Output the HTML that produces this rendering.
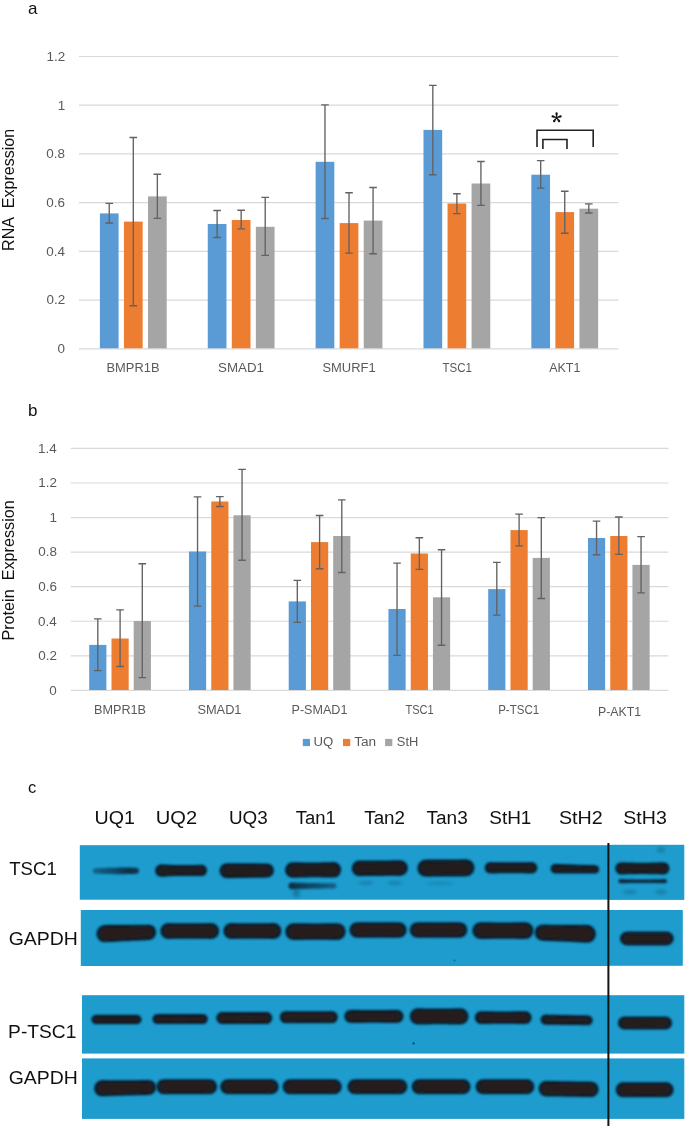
<!DOCTYPE html>
<html><head><meta charset="utf-8"><style>
html,body{margin:0;padding:0;background:#fff;}
body{width:685px;height:1126px;overflow:hidden;}
svg{display:block;will-change:transform;}
text{font-family:"Liberation Sans",sans-serif;}
.lab{fill:#111;}
.tick{fill:#595959;}
.xl{fill:#595959;}
.ytitle{fill:#111;}
.bl{fill:#111;}
</style></head><body>
<svg width="685" height="1126" viewBox="0 0 685 1126">
<defs><filter id="b1" x="-10%" y="-50%" width="120%" height="200%"><feGaussianBlur stdDeviation="0.8"/></filter>
<filter id="b2" x="-30%" y="-80%" width="160%" height="260%"><feGaussianBlur stdDeviation="1.6"/></filter>
<linearGradient id="gteal" x1="0" x2="1" y1="0" y2="0"><stop offset="0" stop-color="#14638c"/><stop offset="0.45" stop-color="#0d4a6b"/><stop offset="0.8" stop-color="#092f45"/><stop offset="1" stop-color="#0c3d5a"/></linearGradient>
<linearGradient id="gteal2" x1="0" x2="1" y1="0" y2="0"><stop offset="0" stop-color="#0a2d42"/><stop offset="0.4" stop-color="#0e4563"/><stop offset="1" stop-color="#136089"/></linearGradient>
</defs>
<rect width="685" height="1126" fill="#fff"/>
<text x="32.7" y="14.0" class="lab" style="font-size:17px" text-anchor="middle">a</text>
<line x1="79.0" x2="618.3" y1="348.80" y2="348.80" stroke="#d9d9d9" stroke-width="1.2"/>
<text x="57.53" y="353.10" class="tick" style="font-size:12.7px" textLength="7.49" lengthAdjust="spacingAndGlyphs">0</text>
<line x1="79.0" x2="618.3" y1="300.08" y2="300.08" stroke="#d9d9d9" stroke-width="1.2"/>
<text x="46.46" y="304.38" class="tick" style="font-size:12.7px" textLength="18.71" lengthAdjust="spacingAndGlyphs">0.2</text>
<line x1="79.0" x2="618.3" y1="251.36" y2="251.36" stroke="#d9d9d9" stroke-width="1.2"/>
<text x="46.16" y="255.66" class="tick" style="font-size:12.7px" textLength="18.71" lengthAdjust="spacingAndGlyphs">0.4</text>
<line x1="79.0" x2="618.3" y1="202.64" y2="202.64" stroke="#d9d9d9" stroke-width="1.2"/>
<text x="46.36" y="206.94" class="tick" style="font-size:12.7px" textLength="18.71" lengthAdjust="spacingAndGlyphs">0.6</text>
<line x1="79.0" x2="618.3" y1="153.92" y2="153.92" stroke="#d9d9d9" stroke-width="1.2"/>
<text x="46.36" y="158.22" class="tick" style="font-size:12.7px" textLength="18.71" lengthAdjust="spacingAndGlyphs">0.8</text>
<line x1="79.0" x2="618.3" y1="105.20" y2="105.20" stroke="#d9d9d9" stroke-width="1.2"/>
<text x="57.67" y="109.50" class="tick" style="font-size:12.7px" textLength="7.49" lengthAdjust="spacingAndGlyphs">1</text>
<line x1="79.0" x2="618.3" y1="56.48" y2="56.48" stroke="#d9d9d9" stroke-width="1.2"/>
<text x="46.46" y="60.78" class="tick" style="font-size:12.7px" textLength="18.71" lengthAdjust="spacingAndGlyphs">1.2</text>
<rect x="99.90" y="213.40" width="18.7" height="134.90" fill="#5b9bd5"/>
<rect x="123.95" y="221.60" width="18.7" height="126.70" fill="#ed7d31"/>
<rect x="148.00" y="196.40" width="18.7" height="151.90" fill="#a5a5a5"/>
<rect x="207.76" y="224.00" width="18.7" height="124.30" fill="#5b9bd5"/>
<rect x="231.81" y="220.00" width="18.7" height="128.30" fill="#ed7d31"/>
<rect x="255.86" y="226.80" width="18.7" height="121.50" fill="#a5a5a5"/>
<rect x="315.62" y="161.80" width="18.7" height="186.50" fill="#5b9bd5"/>
<rect x="339.67" y="223.10" width="18.7" height="125.20" fill="#ed7d31"/>
<rect x="363.72" y="220.60" width="18.7" height="127.70" fill="#a5a5a5"/>
<rect x="423.48" y="129.90" width="18.7" height="218.40" fill="#5b9bd5"/>
<rect x="447.53" y="203.50" width="18.7" height="144.80" fill="#ed7d31"/>
<rect x="471.58" y="183.50" width="18.7" height="164.80" fill="#a5a5a5"/>
<rect x="531.34" y="174.70" width="18.7" height="173.60" fill="#5b9bd5"/>
<rect x="555.39" y="212.10" width="18.7" height="136.20" fill="#ed7d31"/>
<rect x="579.44" y="208.70" width="18.7" height="139.60" fill="#a5a5a5"/>
<path d="M109.25 203.40V223.00M105.45 203.40H113.05M105.45 223.00H113.05" stroke="#626262" stroke-width="1.35" fill="none"/>
<path d="M133.30 137.50V305.70M129.50 137.50H137.10M129.50 305.70H137.10" stroke="#626262" stroke-width="1.35" fill="none"/>
<path d="M157.35 174.20V218.30M153.55 174.20H161.15M153.55 218.30H161.15" stroke="#626262" stroke-width="1.35" fill="none"/>
<path d="M217.11 210.50V237.50M213.31 210.50H220.91M213.31 237.50H220.91" stroke="#626262" stroke-width="1.35" fill="none"/>
<path d="M241.16 210.20V228.90M237.36 210.20H244.96M237.36 228.90H244.96" stroke="#626262" stroke-width="1.35" fill="none"/>
<path d="M265.21 197.30V255.30M261.41 197.30H269.01M261.41 255.30H269.01" stroke="#626262" stroke-width="1.35" fill="none"/>
<path d="M324.97 104.80V218.50M321.17 104.80H328.77M321.17 218.50H328.77" stroke="#626262" stroke-width="1.35" fill="none"/>
<path d="M349.02 192.70V253.10M345.22 192.70H352.82M345.22 253.10H352.82" stroke="#626262" stroke-width="1.35" fill="none"/>
<path d="M373.07 187.50V253.70M369.27 187.50H376.87M369.27 253.70H376.87" stroke="#626262" stroke-width="1.35" fill="none"/>
<path d="M432.83 85.40V174.70M429.03 85.40H436.63M429.03 174.70H436.63" stroke="#626262" stroke-width="1.35" fill="none"/>
<path d="M456.88 193.70V213.60M453.08 193.70H460.68M453.08 213.60H460.68" stroke="#626262" stroke-width="1.35" fill="none"/>
<path d="M480.93 161.50V205.30M477.13 161.50H484.73M477.13 205.30H484.73" stroke="#626262" stroke-width="1.35" fill="none"/>
<path d="M540.69 160.60V188.10M536.89 160.60H544.49M536.89 188.10H544.49" stroke="#626262" stroke-width="1.35" fill="none"/>
<path d="M564.74 191.20V233.20M560.94 191.20H568.54M560.94 233.20H568.54" stroke="#626262" stroke-width="1.35" fill="none"/>
<path d="M588.79 203.80V213.00M584.99 203.80H592.59M584.99 213.00H592.59" stroke="#626262" stroke-width="1.35" fill="none"/>
<text x="106.54" y="371.70" class="xl" style="font-size:12.5px" textLength="52.94" lengthAdjust="spacingAndGlyphs">BMPR1B</text>
<text x="218.00" y="371.70" class="xl" style="font-size:12.5px" textLength="45.94" lengthAdjust="spacingAndGlyphs">SMAD1</text>
<text x="322.42" y="371.70" class="xl" style="font-size:12.5px" textLength="53.22" lengthAdjust="spacingAndGlyphs">SMURF1</text>
<text x="442.44" y="371.70" class="xl" style="font-size:12.5px" textLength="29.42" lengthAdjust="spacingAndGlyphs">TSC1</text>
<text x="549.27" y="371.70" class="xl" style="font-size:12.5px" textLength="31.14" lengthAdjust="spacingAndGlyphs">AKT1</text>
<g transform="translate(13.9,0) rotate(-90)"><text x="-250.93" y="0.00" class="ytitle" style="font-size:16px" textLength="122.00" lengthAdjust="spacingAndGlyphs">RNA&#160;&#160;Expression</text></g>
<path d="M537.0 147V130.3H593.2V147" stroke="#222" stroke-width="1.6" fill="none"/>
<path d="M542.9 149V139.5H567.0V149" stroke="#222" stroke-width="1.6" fill="none"/>
<path d="M556.95 117.60L557.75 113.45A1.15 1.15 0 1 0 555.45 113.45L556.25 117.60ZM556.71 117.93L560.90 117.41A1.15 1.15 0 1 0 560.19 115.22L556.49 117.27ZM556.32 117.81L558.11 121.63A1.15 1.15 0 1 0 559.97 120.28L556.88 117.39ZM556.32 117.39L553.23 120.28A1.15 1.15 0 1 0 555.09 121.63L556.88 117.81ZM556.71 117.27L553.01 115.22A1.15 1.15 0 1 0 552.30 117.41L556.49 117.93Z" fill="#111"/>
<text x="32.8" y="416.0" class="lab" style="font-size:17px" text-anchor="middle">b</text>
<line x1="70.8" x2="668.5" y1="690.40" y2="690.40" stroke="#d9d9d9" stroke-width="1.2"/>
<text x="49.33" y="694.70" class="tick" style="font-size:12.7px" textLength="7.49" lengthAdjust="spacingAndGlyphs">0</text>
<line x1="70.8" x2="668.5" y1="655.83" y2="655.83" stroke="#d9d9d9" stroke-width="1.2"/>
<text x="38.26" y="660.13" class="tick" style="font-size:12.7px" textLength="18.71" lengthAdjust="spacingAndGlyphs">0.2</text>
<line x1="70.8" x2="668.5" y1="621.26" y2="621.26" stroke="#d9d9d9" stroke-width="1.2"/>
<text x="37.96" y="625.56" class="tick" style="font-size:12.7px" textLength="18.71" lengthAdjust="spacingAndGlyphs">0.4</text>
<line x1="70.8" x2="668.5" y1="586.69" y2="586.69" stroke="#d9d9d9" stroke-width="1.2"/>
<text x="38.16" y="590.99" class="tick" style="font-size:12.7px" textLength="18.71" lengthAdjust="spacingAndGlyphs">0.6</text>
<line x1="70.8" x2="668.5" y1="552.12" y2="552.12" stroke="#d9d9d9" stroke-width="1.2"/>
<text x="38.16" y="556.42" class="tick" style="font-size:12.7px" textLength="18.71" lengthAdjust="spacingAndGlyphs">0.8</text>
<line x1="70.8" x2="668.5" y1="517.55" y2="517.55" stroke="#d9d9d9" stroke-width="1.2"/>
<text x="49.47" y="521.85" class="tick" style="font-size:12.7px" textLength="7.49" lengthAdjust="spacingAndGlyphs">1</text>
<line x1="70.8" x2="668.5" y1="482.98" y2="482.98" stroke="#d9d9d9" stroke-width="1.2"/>
<text x="38.26" y="487.28" class="tick" style="font-size:12.7px" textLength="18.71" lengthAdjust="spacingAndGlyphs">1.2</text>
<line x1="70.8" x2="668.5" y1="448.41" y2="448.41" stroke="#d9d9d9" stroke-width="1.2"/>
<text x="37.96" y="452.71" class="tick" style="font-size:12.7px" textLength="18.71" lengthAdjust="spacingAndGlyphs">1.4</text>
<rect x="89.20" y="644.90" width="17.2" height="45.10" fill="#5b9bd5"/>
<rect x="111.50" y="638.50" width="17.2" height="51.50" fill="#ed7d31"/>
<rect x="133.70" y="621.00" width="17.2" height="69.00" fill="#a5a5a5"/>
<rect x="188.95" y="551.50" width="17.2" height="138.50" fill="#5b9bd5"/>
<rect x="211.25" y="501.50" width="17.2" height="188.50" fill="#ed7d31"/>
<rect x="233.45" y="515.30" width="17.2" height="174.70" fill="#a5a5a5"/>
<rect x="288.70" y="601.40" width="17.2" height="88.60" fill="#5b9bd5"/>
<rect x="311.00" y="542.10" width="17.2" height="147.90" fill="#ed7d31"/>
<rect x="333.20" y="536.00" width="17.2" height="154.00" fill="#a5a5a5"/>
<rect x="388.45" y="609.00" width="17.2" height="81.00" fill="#5b9bd5"/>
<rect x="410.75" y="553.50" width="17.2" height="136.50" fill="#ed7d31"/>
<rect x="432.95" y="597.30" width="17.2" height="92.70" fill="#a5a5a5"/>
<rect x="488.20" y="589.10" width="17.2" height="100.90" fill="#5b9bd5"/>
<rect x="510.50" y="530.10" width="17.2" height="159.90" fill="#ed7d31"/>
<rect x="532.70" y="557.90" width="17.2" height="132.10" fill="#a5a5a5"/>
<rect x="587.95" y="538.00" width="17.2" height="152.00" fill="#5b9bd5"/>
<rect x="610.25" y="536.00" width="17.2" height="154.00" fill="#ed7d31"/>
<rect x="632.45" y="564.90" width="17.2" height="125.10" fill="#a5a5a5"/>
<path d="M97.80 618.90V670.60M94.00 618.90H101.60M94.00 670.60H101.60" stroke="#626262" stroke-width="1.35" fill="none"/>
<path d="M120.10 609.90V666.50M116.30 609.90H123.90M116.30 666.50H123.90" stroke="#626262" stroke-width="1.35" fill="none"/>
<path d="M142.30 563.70V677.60M138.50 563.70H146.10M138.50 677.60H146.10" stroke="#626262" stroke-width="1.35" fill="none"/>
<path d="M197.55 496.90V606.10M193.75 496.90H201.35M193.75 606.10H201.35" stroke="#626262" stroke-width="1.35" fill="none"/>
<path d="M219.85 496.60V506.50M216.05 496.60H223.65M216.05 506.50H223.65" stroke="#626262" stroke-width="1.35" fill="none"/>
<path d="M242.05 469.40V560.20M238.25 469.40H245.85M238.25 560.20H245.85" stroke="#626262" stroke-width="1.35" fill="none"/>
<path d="M297.30 580.40V622.40M293.50 580.40H301.10M293.50 622.40H301.10" stroke="#626262" stroke-width="1.35" fill="none"/>
<path d="M319.60 515.50V568.70M315.80 515.50H323.40M315.80 568.70H323.40" stroke="#626262" stroke-width="1.35" fill="none"/>
<path d="M341.80 499.80V572.50M338.00 499.80H345.60M338.00 572.50H345.60" stroke="#626262" stroke-width="1.35" fill="none"/>
<path d="M397.05 563.10V655.40M393.25 563.10H400.85M393.25 655.40H400.85" stroke="#626262" stroke-width="1.35" fill="none"/>
<path d="M419.35 537.70V569.30M415.55 537.70H423.15M415.55 569.30H423.15" stroke="#626262" stroke-width="1.35" fill="none"/>
<path d="M441.55 549.70V645.20M437.75 549.70H445.35M437.75 645.20H445.35" stroke="#626262" stroke-width="1.35" fill="none"/>
<path d="M496.80 562.30V615.10M493.00 562.30H500.60M493.00 615.10H500.60" stroke="#626262" stroke-width="1.35" fill="none"/>
<path d="M519.10 514.10V545.90M515.30 514.10H522.90M515.30 545.90H522.90" stroke="#626262" stroke-width="1.35" fill="none"/>
<path d="M541.30 517.60V598.50M537.50 517.60H545.10M537.50 598.50H545.10" stroke="#626262" stroke-width="1.35" fill="none"/>
<path d="M596.55 521.10V554.70M592.75 521.10H600.35M592.75 554.70H600.35" stroke="#626262" stroke-width="1.35" fill="none"/>
<path d="M618.85 517.00V554.40M615.05 517.00H622.65M615.05 554.40H622.65" stroke="#626262" stroke-width="1.35" fill="none"/>
<path d="M641.05 536.60V592.90M637.25 536.60H644.85M637.25 592.90H644.85" stroke="#626262" stroke-width="1.35" fill="none"/>
<text x="93.95" y="713.80" class="xl" style="font-size:12.5px" textLength="52.11" lengthAdjust="spacingAndGlyphs">BMPR1B</text>
<text x="197.42" y="713.80" class="xl" style="font-size:12.5px" textLength="44.09" lengthAdjust="spacingAndGlyphs">SMAD1</text>
<text x="291.56" y="713.80" class="xl" style="font-size:12.5px" textLength="55.84" lengthAdjust="spacingAndGlyphs">P-SMAD1</text>
<text x="405.45" y="713.80" class="xl" style="font-size:12.5px" textLength="28.29" lengthAdjust="spacingAndGlyphs">TSC1</text>
<text x="498.15" y="713.80" class="xl" style="font-size:12.5px" textLength="41.01" lengthAdjust="spacingAndGlyphs">P-TSC1</text>
<text x="597.98" y="715.80" class="xl" style="font-size:12.5px" textLength="43.22" lengthAdjust="spacingAndGlyphs">P-AKT1</text>
<g transform="translate(13.9,0) rotate(-90)"><text x="-640.64" y="0.00" class="ytitle" style="font-size:16px" textLength="140.41" lengthAdjust="spacingAndGlyphs">Protein&#160;&#160;Expression</text></g>
<rect x="302.8" y="738.9" width="7.2" height="7.2" fill="#5b9bd5"/>
<text x="313.48" y="745.90" class="xl" style="font-size:12.5px" textLength="19.75" lengthAdjust="spacingAndGlyphs">UQ</text>
<rect x="343.0" y="738.9" width="7.2" height="7.2" fill="#ed7d31"/>
<text x="354.19" y="745.90" class="xl" style="font-size:12.5px" textLength="21.92" lengthAdjust="spacingAndGlyphs">Tan</text>
<rect x="385.1" y="738.9" width="7.2" height="7.2" fill="#a5a5a5"/>
<text x="396.82" y="745.90" class="xl" style="font-size:12.5px" textLength="21.43" lengthAdjust="spacingAndGlyphs">StH</text>
<text x="32.0" y="792.8" class="lab" style="font-size:16.5px" text-anchor="middle">c</text>
<text x="94.58" y="824.00" class="bl" style="font-size:18px" textLength="40.38" lengthAdjust="spacingAndGlyphs">UQ1</text>
<text x="155.84" y="824.00" class="bl" style="font-size:18px" textLength="41.39" lengthAdjust="spacingAndGlyphs">UQ2</text>
<text x="228.94" y="824.00" class="bl" style="font-size:18px" textLength="38.79" lengthAdjust="spacingAndGlyphs">UQ3</text>
<text x="295.68" y="824.00" class="bl" style="font-size:18px" textLength="40.11" lengthAdjust="spacingAndGlyphs">Tan1</text>
<text x="364.28" y="824.00" class="bl" style="font-size:18px" textLength="40.78" lengthAdjust="spacingAndGlyphs">Tan2</text>
<text x="426.47" y="824.00" class="bl" style="font-size:18px" textLength="41.26" lengthAdjust="spacingAndGlyphs">Tan3</text>
<text x="489.25" y="824.00" class="bl" style="font-size:18px" textLength="42.17" lengthAdjust="spacingAndGlyphs">StH1</text>
<text x="558.91" y="824.00" class="bl" style="font-size:18px" textLength="43.78" lengthAdjust="spacingAndGlyphs">StH2</text>
<text x="623.32" y="824.00" class="bl" style="font-size:18px" textLength="43.53" lengthAdjust="spacingAndGlyphs">StH3</text>
<text x="9.28" y="875.10" class="bl" style="font-size:18.5px" textLength="47.52" lengthAdjust="spacingAndGlyphs">TSC1</text>
<text x="8.73" y="944.80" class="bl" style="font-size:18.5px" textLength="69.15" lengthAdjust="spacingAndGlyphs">GAPDH</text>
<text x="8.12" y="1037.80" class="bl" style="font-size:18.5px" textLength="68.32" lengthAdjust="spacingAndGlyphs">P-TSC1</text>
<text x="8.73" y="1083.60" class="bl" style="font-size:18.5px" textLength="69.15" lengthAdjust="spacingAndGlyphs">GAPDH</text>
<rect x="79.8" y="845.2" width="528.60" height="54.50" fill="#1d9ccd"/>
<rect x="608.4" y="844.8" width="75.90" height="55.10" fill="#1d9ccd"/>
<rect x="80.8" y="910.0" width="527.60" height="56.00" fill="#1d9ccd"/>
<rect x="608.4" y="910.0" width="74.40" height="55.80" fill="#1d9ccd"/>
<rect x="82.0" y="995.2" width="526.40" height="58.40" fill="#1d9ccd"/>
<rect x="608.4" y="995.2" width="75.90" height="58.40" fill="#1d9ccd"/>
<rect x="82.0" y="1058.4" width="526.40" height="60.50" fill="#1d9ccd"/>
<rect x="608.4" y="1058.4" width="75.90" height="60.50" fill="#1d9ccd"/>
<path d="M92.80 871.00L92.97 870.09L93.47 869.27L94.30 868.63L95.45 868.35L96.90 868.28L98.62 868.19L100.60 868.10L102.80 868.01L105.19 867.92L107.74 867.84L110.41 867.76L113.16 867.70L115.95 867.65L118.74 867.62L121.49 867.59L124.16 867.59L126.71 867.60L129.10 867.61L131.30 867.64L133.28 867.67L135.00 867.70L136.45 867.75L137.60 868.17L138.43 868.90L138.93 869.81L139.10 870.80L139.10 870.80L138.93 871.79L138.43 872.71L137.60 873.45L136.45 873.87L135.00 873.93L133.28 873.98L131.30 874.03L129.10 874.07L126.71 874.11L124.16 874.14L121.49 874.16L118.74 874.16L115.95 874.15L113.16 874.12L110.41 874.09L107.74 874.03L105.19 873.97L102.80 873.90L100.60 873.83L98.62 873.76L96.90 873.69L95.45 873.63L94.30 873.36L93.47 872.73L92.97 871.91L92.80 871.00Z" fill="url(#gteal)" filter="url(#b1)"/>
<path d="M155.10 870.60L155.29 869.02L155.86 867.53L156.79 866.23L158.08 865.21L159.70 864.55L161.64 864.36L163.86 864.48L166.33 864.61L169.02 864.73L171.88 864.84L174.88 864.93L177.97 865.00L181.10 865.05L184.23 865.07L187.32 865.07L190.32 865.04L193.18 864.99L195.87 864.92L198.34 864.85L200.56 864.77L202.50 864.83L204.12 865.38L205.41 866.31L206.34 867.52L206.91 868.91L207.10 870.40L207.10 870.40L206.91 871.89L206.34 873.29L205.41 874.50L204.12 875.44L202.50 876.00L200.56 876.08L198.34 876.02L195.87 875.96L193.18 875.92L190.32 875.89L187.32 875.89L184.23 875.91L181.10 875.95L177.97 876.02L174.88 876.11L171.88 876.23L169.02 876.36L166.33 876.50L163.86 876.65L161.64 876.79L159.70 876.61L158.08 875.97L156.79 874.95L155.86 873.66L155.29 872.18L155.10 870.60Z" fill="#0b2231" filter="url(#b1)"/>
<path d="M158.70 870.60L158.86 869.46L159.35 868.41L160.16 867.56L161.27 867.00L162.67 866.83L164.33 866.95L166.25 867.08L168.38 867.21L170.69 867.33L173.16 867.44L175.74 867.53L178.40 867.60L181.10 867.65L183.80 867.67L186.46 867.67L189.04 867.64L191.51 867.59L193.82 867.52L195.95 867.45L197.87 867.37L199.53 867.28L200.93 867.30L202.04 867.71L202.85 868.44L203.34 869.37L203.50 870.40L203.50 870.40L203.34 871.43L202.85 872.36L202.04 873.10L200.93 873.53L199.53 873.55L197.87 873.48L195.95 873.42L193.82 873.36L191.51 873.32L189.04 873.29L186.46 873.29L183.80 873.31L181.10 873.35L178.40 873.42L175.74 873.51L173.16 873.63L170.69 873.76L168.38 873.90L166.25 874.05L164.33 874.20L162.67 874.33L161.27 874.18L160.16 873.62L159.35 872.78L158.86 871.74L158.70 870.60Z" fill="#211a1b" filter="url(#b1)"/>
<path d="M219.40 870.70L219.60 868.97L220.19 867.32L221.17 865.83L222.53 864.57L224.23 863.65L226.27 863.19L228.60 863.17L231.19 863.19L234.01 863.21L237.02 863.23L240.17 863.25L243.41 863.28L246.70 863.30L249.99 863.32L253.23 863.35L256.38 863.37L259.39 863.39L262.21 863.41L264.80 863.43L267.13 863.45L269.17 863.81L270.87 864.65L272.23 865.84L273.21 867.26L273.80 868.84L274.00 870.50L274.00 870.50L273.80 872.16L273.21 873.74L272.23 875.18L270.87 876.37L269.17 877.22L267.13 877.60L264.80 877.63L262.21 877.67L259.39 877.71L256.38 877.76L253.23 877.80L249.99 877.85L246.70 877.90L243.41 877.95L240.17 878.00L237.02 878.04L234.01 878.09L231.19 878.13L228.60 878.17L226.27 878.16L224.23 877.71L222.53 876.81L221.17 875.56L220.19 874.07L219.60 872.43L219.40 870.70Z" fill="#0b2231" filter="url(#b1)"/>
<path d="M223.00 870.70L223.17 869.40L223.69 868.17L224.54 867.10L225.71 866.27L227.20 865.80L228.96 865.75L230.98 865.77L233.24 865.79L235.69 865.81L238.30 865.83L241.03 865.85L243.84 865.88L246.70 865.90L249.56 865.92L252.37 865.95L255.10 865.97L257.71 865.99L260.16 866.01L262.42 866.03L264.44 866.05L266.20 866.07L267.69 866.42L268.86 867.15L269.71 868.13L270.23 869.28L270.40 870.50L270.40 870.50L270.23 871.72L269.71 872.87L268.86 873.87L267.69 874.61L266.20 874.97L264.44 875.00L262.42 875.03L260.16 875.07L257.71 875.11L255.10 875.16L252.37 875.20L249.56 875.25L246.70 875.30L243.84 875.35L241.03 875.40L238.30 875.44L235.69 875.49L233.24 875.53L230.98 875.57L228.96 875.60L227.20 875.56L225.71 875.11L224.54 874.29L223.69 873.22L223.17 872.00L223.00 870.70Z" fill="#211a1b" filter="url(#b1)"/>
<path d="M285.00 870.00L285.20 868.18L285.82 866.45L286.83 864.89L288.22 863.60L289.97 862.67L292.07 862.18L294.47 862.19L297.14 862.26L300.04 862.33L303.14 862.39L306.38 862.43L309.71 862.45L313.10 862.45L316.49 862.43L319.82 862.38L323.06 862.32L326.16 862.24L329.06 862.15L331.73 862.05L334.13 862.03L336.23 862.50L337.98 863.43L339.37 864.71L340.38 866.25L341.00 867.98L341.20 869.80L341.20 869.80L341.00 871.62L340.38 873.35L339.37 874.91L337.98 876.20L336.23 877.13L334.13 877.62L331.73 877.61L329.06 877.54L326.16 877.47L323.06 877.41L319.82 877.37L316.49 877.35L313.10 877.35L309.71 877.37L306.38 877.42L303.14 877.48L300.04 877.56L297.14 877.65L294.47 877.75L292.07 877.77L289.97 877.30L288.22 876.37L286.83 875.09L285.82 873.55L285.20 871.82L285.00 870.00Z" fill="#0b2231" filter="url(#b1)"/>
<path d="M288.60 870.00L288.78 868.60L289.31 867.29L290.19 866.15L291.41 865.28L292.94 864.76L294.76 864.70L296.85 864.79L299.18 864.86L301.71 864.93L304.41 864.99L307.24 865.03L310.15 865.05L313.10 865.05L316.05 865.03L318.96 864.98L321.79 864.92L324.49 864.84L327.02 864.75L329.35 864.65L331.44 864.55L333.26 864.60L334.79 865.10L336.01 865.96L336.89 867.09L337.42 868.40L337.60 869.80L337.60 869.80L337.42 871.20L336.89 872.51L336.01 873.65L334.79 874.52L333.26 875.04L331.44 875.10L329.35 875.01L327.02 874.94L324.49 874.87L321.79 874.81L318.96 874.77L316.05 874.75L313.10 874.75L310.15 874.77L307.24 874.82L304.41 874.88L301.71 874.96L299.18 875.05L296.85 875.15L294.76 875.25L292.94 875.20L291.41 874.70L290.19 873.84L289.31 872.71L288.78 871.40L288.60 870.00Z" fill="#211a1b" filter="url(#b1)"/>
<path d="M288.40 885.90L288.58 884.81L289.10 883.81L289.96 883.03L291.15 882.56L292.66 882.53L294.45 882.58L296.50 882.64L298.79 882.70L301.27 882.76L303.92 882.82L306.69 882.88L309.55 882.94L312.45 883.00L315.35 883.05L318.21 883.10L320.98 883.14L323.63 883.18L326.11 883.21L328.40 883.23L330.45 883.25L332.24 883.27L333.75 883.28L334.94 883.51L335.80 884.12L336.32 884.96L336.50 885.90L336.50 885.90L336.32 886.84L335.80 887.68L334.94 888.29L333.75 888.52L332.24 888.53L330.45 888.55L328.40 888.57L326.11 888.59L323.63 888.62L320.98 888.66L318.21 888.70L315.35 888.75L312.45 888.80L309.55 888.86L306.69 888.92L303.92 888.98L301.27 889.04L298.79 889.10L296.50 889.16L294.45 889.22L292.66 889.27L291.15 889.24L289.96 888.77L289.10 887.99L288.58 886.99L288.40 885.90Z" fill="url(#gteal2)" filter="url(#b1)"/>
<path d="M351.70 868.40L351.90 866.61L352.52 864.89L353.53 863.34L354.92 862.03L356.67 861.07L358.77 860.56L361.17 860.52L363.84 860.53L366.74 860.54L369.84 860.54L373.08 860.53L376.41 860.52L379.80 860.50L383.19 860.47L386.52 860.44L389.76 860.40L392.86 860.35L395.76 860.31L398.43 860.26L400.83 860.26L402.93 860.74L404.68 861.68L406.07 862.96L407.08 864.50L407.70 866.21L407.90 868.00L407.90 868.00L407.70 869.79L407.08 871.51L406.07 873.06L404.68 874.37L402.93 875.33L400.83 875.84L398.43 875.88L395.76 875.87L392.86 875.86L389.76 875.86L386.52 875.87L383.19 875.88L379.80 875.90L376.41 875.93L373.08 875.96L369.84 876.00L366.74 876.05L363.84 876.09L361.17 876.14L358.77 876.14L356.67 875.66L354.92 874.72L353.53 873.44L352.52 871.90L351.90 870.19L351.70 868.40Z" fill="#0b2231" filter="url(#b1)"/>
<path d="M355.30 868.40L355.48 867.03L356.01 865.73L356.89 864.60L358.11 863.72L359.64 863.19L361.46 863.11L363.55 863.12L365.88 863.13L368.41 863.14L371.11 863.14L373.94 863.13L376.85 863.12L379.80 863.10L382.75 863.07L385.66 863.04L388.49 863.00L391.19 862.95L393.72 862.91L396.05 862.86L398.14 862.81L399.96 862.86L401.49 863.36L402.71 864.23L403.59 865.35L404.12 866.63L404.30 868.00L404.30 868.00L404.12 869.37L403.59 870.67L402.71 871.80L401.49 872.68L399.96 873.21L398.14 873.29L396.05 873.28L393.72 873.27L391.19 873.26L388.49 873.26L385.66 873.27L382.75 873.28L379.80 873.30L376.85 873.33L373.94 873.36L371.11 873.40L368.41 873.45L365.88 873.49L363.55 873.54L361.46 873.59L359.64 873.54L358.11 873.04L356.89 872.17L356.01 871.05L355.48 869.77L355.30 868.40Z" fill="#211a1b" filter="url(#b1)"/>
<path d="M417.30 868.20L417.51 866.31L418.13 864.49L419.16 862.83L420.58 861.42L422.36 860.33L424.49 859.69L426.93 859.57L429.65 859.58L432.61 859.59L435.76 859.59L439.06 859.58L442.45 859.57L445.90 859.55L449.35 859.52L452.74 859.49L456.04 859.45L459.19 859.40L462.15 859.36L464.87 859.31L467.31 859.39L469.44 860.01L471.22 861.06L472.64 862.46L473.67 864.10L474.29 865.91L474.50 867.80L474.50 867.80L474.29 869.69L473.67 871.51L472.64 873.17L471.22 874.58L469.44 875.67L467.31 876.31L464.87 876.43L462.15 876.42L459.19 876.41L456.04 876.41L452.74 876.42L449.35 876.43L445.90 876.45L442.45 876.48L439.06 876.51L435.76 876.55L432.61 876.60L429.65 876.64L426.93 876.69L424.49 876.61L422.36 875.99L420.58 874.94L419.16 873.54L418.13 871.90L417.51 870.09L417.30 868.20Z" fill="#0b2231" filter="url(#b1)"/>
<path d="M420.90 868.20L421.08 866.72L421.63 865.31L422.52 864.06L423.76 863.05L425.33 862.38L427.19 862.16L429.32 862.17L431.70 862.18L434.28 862.19L437.03 862.19L439.92 862.18L442.89 862.17L445.90 862.15L448.91 862.12L451.88 862.09L454.77 862.05L457.52 862.00L460.10 861.96L462.48 861.91L464.61 861.86L466.47 862.05L468.04 862.70L469.28 863.69L470.17 864.93L470.72 866.32L470.90 867.80L470.90 867.80L470.72 869.28L470.17 870.69L469.28 871.94L468.04 872.95L466.47 873.62L464.61 873.84L462.48 873.83L460.10 873.82L457.52 873.81L454.77 873.81L451.88 873.82L448.91 873.83L445.90 873.85L442.89 873.88L439.92 873.91L437.03 873.95L434.28 874.00L431.70 874.04L429.32 874.09L427.19 874.14L425.33 873.95L423.76 873.30L422.52 872.31L421.63 871.07L421.08 869.68L420.90 868.20Z" fill="#211a1b" filter="url(#b1)"/>
<path d="M484.60 867.80L484.79 866.31L485.37 864.90L486.32 863.68L487.62 862.73L489.27 862.17L491.24 862.10L493.49 862.15L496.00 862.20L498.73 862.25L501.64 862.29L504.68 862.32L507.82 862.34L511.00 862.35L514.18 862.34L517.32 862.32L520.36 862.29L523.27 862.25L526.00 862.20L528.51 862.15L530.76 862.10L532.73 862.17L534.38 862.73L535.68 863.68L536.63 864.90L537.21 866.31L537.40 867.80L537.40 867.80L537.21 869.29L536.63 870.70L535.68 871.92L534.38 872.87L532.73 873.43L530.76 873.50L528.51 873.45L526.00 873.40L523.27 873.35L520.36 873.31L517.32 873.28L514.18 873.26L511.00 873.25L507.82 873.26L504.68 873.28L501.64 873.31L498.73 873.35L496.00 873.40L493.49 873.45L491.24 873.50L489.27 873.43L487.62 872.87L486.32 871.92L485.37 870.70L484.79 869.29L484.60 867.80Z" fill="#0b2231" filter="url(#b1)"/>
<path d="M488.20 867.80L488.37 866.77L488.86 865.83L489.68 865.09L490.81 864.67L492.24 864.65L493.93 864.70L495.88 864.75L498.05 864.80L500.40 864.85L502.92 864.89L505.54 864.92L508.25 864.94L511.00 864.95L513.75 864.94L516.46 864.92L519.08 864.89L521.60 864.85L523.95 864.80L526.12 864.75L528.07 864.70L529.76 864.65L531.19 864.67L532.32 865.09L533.14 865.83L533.63 866.77L533.80 867.80L533.80 867.80L533.63 868.83L533.14 869.77L532.32 870.51L531.19 870.93L529.76 870.95L528.07 870.90L526.12 870.85L523.95 870.80L521.60 870.75L519.08 870.71L516.46 870.68L513.75 870.66L511.00 870.65L508.25 870.66L505.54 870.68L502.92 870.71L500.40 870.75L498.05 870.80L495.88 870.85L493.93 870.90L492.24 870.95L490.81 870.93L489.68 870.51L488.86 869.77L488.37 868.83L488.20 867.80Z" fill="#211a1b" filter="url(#b1)"/>
<path d="M550.50 868.60L550.68 867.29L551.21 866.07L552.08 865.03L553.29 864.26L554.81 863.87L556.62 863.90L558.70 863.98L561.02 864.07L563.53 864.16L566.22 864.26L569.02 864.36L571.91 864.45L574.85 864.55L577.79 864.64L580.68 864.73L583.48 864.81L586.17 864.88L588.68 864.95L591.00 865.01L593.08 865.06L594.89 865.10L596.41 865.38L597.62 866.08L598.49 867.05L599.02 868.19L599.20 869.40L599.20 869.40L599.02 870.61L598.49 871.72L597.62 872.67L596.41 873.33L594.89 873.56L593.08 873.54L591.00 873.52L588.68 873.50L586.17 873.49L583.48 873.47L580.68 873.46L577.79 873.45L574.85 873.45L571.91 873.45L569.02 873.45L566.22 873.46L563.53 873.47L561.02 873.48L558.70 873.49L556.62 873.50L554.81 873.47L553.29 873.04L552.08 872.22L551.21 871.15L550.68 869.92L550.50 868.60Z" fill="#0b2231" filter="url(#b1)"/>
<path d="M554.10 868.60L554.25 867.77L554.70 867.05L555.45 866.54L556.48 866.37L557.77 866.43L559.32 866.50L561.09 866.58L563.06 866.67L565.21 866.76L567.49 866.86L569.88 866.96L572.35 867.05L574.85 867.15L577.35 867.24L579.82 867.33L582.21 867.41L584.49 867.48L586.64 867.55L588.61 867.61L590.38 867.66L591.93 867.70L593.22 867.74L594.25 867.79L595.00 868.13L595.45 868.72L595.60 869.40L595.60 869.40L595.45 870.08L595.00 870.64L594.25 870.96L593.22 870.97L591.93 870.96L590.38 870.94L588.61 870.92L586.64 870.90L584.49 870.89L582.21 870.87L579.82 870.86L577.35 870.85L574.85 870.85L572.35 870.85L569.88 870.85L567.49 870.86L565.21 870.87L563.06 870.88L561.09 870.89L559.32 870.90L557.77 870.91L556.48 870.93L555.45 870.72L554.70 870.17L554.25 869.43L554.10 868.60Z" fill="#211a1b" filter="url(#b1)"/>
<path d="M615.20 868.40L615.40 866.82L615.99 865.33L616.96 864.03L618.31 863.02L620.01 862.40L622.03 862.28L624.35 862.37L626.93 862.46L629.73 862.54L632.72 862.61L635.85 862.66L639.08 862.69L642.35 862.70L645.62 862.69L648.85 862.66L651.98 862.61L654.97 862.54L657.77 862.46L660.35 862.37L662.67 862.28L664.69 862.40L666.39 863.02L667.74 864.03L668.71 865.33L669.30 866.82L669.50 868.40L669.50 868.40L669.30 869.98L668.71 871.47L667.74 872.77L666.39 873.78L664.69 874.40L662.67 874.52L660.35 874.43L657.77 874.34L654.97 874.26L651.98 874.19L648.85 874.14L645.62 874.11L642.35 874.10L639.08 874.11L635.85 874.14L632.72 874.19L629.73 874.26L626.93 874.34L624.35 874.43L622.03 874.52L620.01 874.40L618.31 873.78L616.96 872.77L615.99 871.47L615.40 869.98L615.20 868.40Z" fill="#0b2231" filter="url(#b1)"/>
<path d="M618.80 868.40L618.97 867.27L619.48 866.23L620.33 865.40L621.50 864.88L622.97 864.79L624.72 864.88L626.73 864.97L628.97 865.06L631.41 865.14L634.00 865.21L636.71 865.26L639.51 865.29L642.35 865.30L645.19 865.29L647.99 865.26L650.70 865.21L653.29 865.14L655.73 865.06L657.97 864.97L659.98 864.88L661.73 864.79L663.20 864.88L664.37 865.40L665.22 866.23L665.73 867.27L665.90 868.40L665.90 868.40L665.73 869.53L665.22 870.57L664.37 871.40L663.20 871.92L661.73 872.01L659.98 871.92L657.97 871.83L655.73 871.74L653.29 871.66L650.70 871.59L647.99 871.54L645.19 871.51L642.35 871.50L639.51 871.51L636.71 871.54L634.00 871.59L631.41 871.66L628.97 871.74L626.73 871.83L624.72 871.92L622.97 872.01L621.50 871.92L620.33 871.40L619.48 870.57L618.97 869.53L618.80 868.40Z" fill="#211a1b" filter="url(#b1)"/>
<path d="M618.40 881.20L618.58 880.33L619.11 879.58L619.98 879.11L621.18 879.06L622.70 879.11L624.51 879.17L626.59 879.23L628.90 879.29L631.41 879.34L634.08 879.39L636.88 879.42L639.77 879.44L642.70 879.45L645.63 879.44L648.52 879.42L651.32 879.39L653.99 879.34L656.50 879.29L658.81 879.23L660.89 879.17L662.70 879.11L664.22 879.06L665.42 879.11L666.29 879.58L666.82 880.33L667.00 881.20L667.00 881.20L666.82 882.07L666.29 882.82L665.42 883.29L664.22 883.34L662.70 883.29L660.89 883.23L658.81 883.17L656.50 883.11L653.99 883.06L651.32 883.01L648.52 882.98L645.63 882.96L642.70 882.95L639.77 882.96L636.88 882.98L634.08 883.01L631.41 883.06L628.90 883.11L626.59 883.17L624.51 883.23L622.70 883.29L621.18 883.34L619.98 883.29L619.11 882.82L618.58 882.07L618.40 881.20Z" fill="#0c2c40" filter="url(#b1)"/>
<path d="M96.40 933.80L96.62 931.83L97.27 929.94L98.34 928.21L99.82 926.74L101.69 925.63L103.92 924.97L106.47 924.86L109.31 924.86L112.40 924.85L115.70 924.85L119.14 924.83L122.70 924.82L126.30 924.80L129.90 924.78L133.46 924.75L136.90 924.72L140.20 924.69L143.29 924.66L146.13 924.63L148.68 924.60L150.91 924.96L152.78 925.85L154.26 927.12L155.33 928.66L155.98 930.39L156.20 932.20L156.20 932.20L155.98 934.03L155.33 935.78L154.26 937.38L152.78 938.73L150.91 939.72L148.68 940.20L146.13 940.31L143.29 940.43L140.20 940.56L136.90 940.71L133.46 940.87L129.90 941.03L126.30 941.20L122.70 941.37L119.14 941.55L115.70 941.72L112.40 941.89L109.31 942.05L106.47 942.20L103.92 942.22L101.69 941.69L99.82 940.67L98.34 939.28L97.27 937.61L96.62 935.76L96.40 933.80Z" fill="#0b2231" filter="url(#b1)"/>
<path d="M100.00 933.80L100.19 932.25L100.76 930.77L101.71 929.45L103.01 928.39L104.66 927.68L106.61 927.46L108.86 927.46L111.36 927.46L114.08 927.45L116.97 927.45L120.01 927.43L123.13 927.42L126.30 927.40L129.47 927.38L132.59 927.35L135.63 927.32L138.52 927.29L141.24 927.26L143.74 927.23L145.99 927.20L147.94 927.19L149.59 927.60L150.89 928.42L151.84 929.53L152.41 930.82L152.60 932.20L152.60 932.20L152.41 933.59L151.84 934.91L150.89 936.08L149.59 936.99L147.94 937.49L145.99 937.60L143.74 937.71L141.24 937.83L138.52 937.96L135.63 938.11L132.59 938.27L129.47 938.43L126.30 938.60L123.13 938.77L120.01 938.95L116.97 939.12L114.08 939.29L111.36 939.45L108.86 939.60L106.61 939.74L104.66 939.63L103.01 939.03L101.71 938.04L100.76 936.78L100.19 935.34L100.00 933.80Z" fill="#271d1c" filter="url(#b1)"/>
<path d="M160.30 931.00L160.51 929.14L161.16 927.37L162.21 925.78L163.67 924.46L165.51 923.51L167.71 923.06L170.22 923.08L173.02 923.14L176.06 923.19L179.31 923.24L182.70 923.27L186.20 923.29L189.75 923.30L193.30 923.29L196.80 923.27L200.19 923.24L203.44 923.19L206.48 923.14L209.28 923.08L211.79 923.06L213.99 923.51L215.83 924.46L217.29 925.78L218.34 927.37L218.99 929.14L219.20 931.00L219.20 931.00L218.99 932.86L218.34 934.63L217.29 936.22L215.83 937.54L213.99 938.49L211.79 938.94L209.28 938.92L206.48 938.86L203.44 938.81L200.19 938.76L196.80 938.73L193.30 938.71L189.75 938.70L186.20 938.71L182.70 938.73L179.31 938.76L176.06 938.81L173.02 938.86L170.22 938.92L167.71 938.94L165.51 938.49L163.67 937.54L162.21 936.22L161.16 934.63L160.51 932.86L160.30 931.00Z" fill="#0b2231" filter="url(#b1)"/>
<path d="M163.90 931.00L164.09 929.56L164.65 928.21L165.58 927.05L166.86 926.16L168.48 925.65L170.40 925.62L172.61 925.68L175.07 925.74L177.74 925.79L180.58 925.84L183.56 925.87L186.63 925.89L189.75 925.90L192.87 925.89L195.94 925.87L198.92 925.84L201.76 925.79L204.43 925.74L206.89 925.68L209.10 925.62L211.02 925.65L212.64 926.16L213.92 927.05L214.85 928.21L215.41 929.56L215.60 931.00L215.60 931.00L215.41 932.44L214.85 933.79L213.92 934.95L212.64 935.84L211.02 936.35L209.10 936.38L206.89 936.32L204.43 936.26L201.76 936.21L198.92 936.16L195.94 936.13L192.87 936.11L189.75 936.10L186.63 936.11L183.56 936.13L180.58 936.16L177.74 936.21L175.07 936.26L172.61 936.32L170.40 936.38L168.48 936.35L166.86 935.84L165.58 934.95L164.65 933.79L164.09 932.44L163.90 931.00Z" fill="#271d1c" filter="url(#b1)"/>
<path d="M223.30 931.00L223.51 929.15L224.15 927.39L225.19 925.80L226.63 924.49L228.45 923.54L230.62 923.07L233.10 923.08L235.87 923.14L238.88 923.19L242.08 923.24L245.44 923.27L248.89 923.29L252.40 923.30L255.91 923.29L259.36 923.27L262.72 923.24L265.92 923.19L268.93 923.14L271.70 923.08L274.18 923.07L276.35 923.54L278.17 924.49L279.61 925.80L280.65 927.39L281.29 929.15L281.50 931.00L281.50 931.00L281.29 932.85L280.65 934.61L279.61 936.20L278.17 937.51L276.35 938.46L274.18 938.93L271.70 938.92L268.93 938.86L265.92 938.81L262.72 938.76L259.36 938.73L255.91 938.71L252.40 938.70L248.89 938.71L245.44 938.73L242.08 938.76L238.88 938.81L235.87 938.86L233.10 938.92L230.62 938.93L228.45 938.46L226.63 937.51L225.19 936.20L224.15 934.61L223.51 932.85L223.30 931.00Z" fill="#0b2231" filter="url(#b1)"/>
<path d="M226.90 931.00L227.09 929.57L227.64 928.23L228.56 927.07L229.82 926.18L231.41 925.66L233.31 925.62L235.49 925.68L237.91 925.74L240.55 925.79L243.36 925.84L246.30 925.87L249.33 925.89L252.40 925.90L255.47 925.89L258.50 925.87L261.44 925.84L264.25 925.79L266.89 925.74L269.31 925.68L271.49 925.62L273.39 925.66L274.98 926.18L276.24 927.07L277.16 928.23L277.71 929.57L277.90 931.00L277.90 931.00L277.71 932.43L277.16 933.77L276.24 934.93L274.98 935.82L273.39 936.34L271.49 936.38L269.31 936.32L266.89 936.26L264.25 936.21L261.44 936.16L258.50 936.13L255.47 936.11L252.40 936.10L249.33 936.11L246.30 936.13L243.36 936.16L240.55 936.21L237.91 936.26L235.49 936.32L233.31 936.38L231.41 936.34L229.82 935.82L228.56 934.93L227.64 933.77L227.09 932.43L226.90 931.00Z" fill="#271d1c" filter="url(#b1)"/>
<path d="M285.20 931.60L285.42 929.66L286.08 927.80L287.17 926.13L288.66 924.74L290.55 923.72L292.81 923.19L295.39 923.18L298.27 923.24L301.39 923.29L304.72 923.34L308.21 923.37L311.80 923.39L315.45 923.40L319.10 923.39L322.69 923.37L326.18 923.34L329.51 923.29L332.63 923.24L335.51 923.18L338.09 923.19L340.35 923.72L342.24 924.74L343.73 926.13L344.82 927.80L345.48 929.66L345.70 931.60L345.70 931.60L345.48 933.54L344.82 935.40L343.73 937.07L342.24 938.46L340.35 939.48L338.09 940.01L335.51 940.02L332.63 939.96L329.51 939.91L326.18 939.86L322.69 939.83L319.10 939.81L315.45 939.80L311.80 939.81L308.21 939.83L304.72 939.86L301.39 939.91L298.27 939.96L295.39 940.02L292.81 940.01L290.55 939.48L288.66 938.46L287.17 937.07L286.08 935.40L285.42 933.54L285.20 931.60Z" fill="#0b2231" filter="url(#b1)"/>
<path d="M288.80 931.60L288.99 930.07L289.57 928.64L290.53 927.39L291.85 926.41L293.52 925.82L295.50 925.72L297.78 925.78L300.31 925.84L303.07 925.89L306.00 925.94L309.07 925.97L312.24 925.99L315.45 926.00L318.66 925.99L321.83 925.97L324.90 925.94L327.83 925.89L330.59 925.84L333.12 925.78L335.40 925.72L337.38 925.82L339.05 926.41L340.37 927.39L341.33 928.64L341.91 930.07L342.10 931.60L342.10 931.60L341.91 933.13L341.33 934.56L340.37 935.81L339.05 936.79L337.38 937.38L335.40 937.48L333.12 937.42L330.59 937.36L327.83 937.31L324.90 937.26L321.83 937.23L318.66 937.21L315.45 937.20L312.24 937.21L309.07 937.23L306.00 937.26L303.07 937.31L300.31 937.36L297.78 937.42L295.50 937.48L293.52 937.38L291.85 936.79L290.53 935.81L289.57 934.56L288.99 933.13L288.80 931.60Z" fill="#271d1c" filter="url(#b1)"/>
<path d="M349.40 930.00L349.61 928.18L350.23 926.45L351.26 924.89L352.68 923.59L354.47 922.65L356.61 922.17L359.05 922.17L361.77 922.20L364.74 922.24L367.89 922.26L371.19 922.28L374.60 922.30L378.05 922.30L381.50 922.30L384.91 922.28L388.21 922.26L391.36 922.24L394.33 922.20L397.05 922.17L399.49 922.17L401.63 922.65L403.42 923.59L404.84 924.89L405.87 926.45L406.49 928.18L406.70 930.00L406.70 930.00L406.49 931.82L405.87 933.55L404.84 935.11L403.42 936.41L401.63 937.35L399.49 937.83L397.05 937.83L394.33 937.80L391.36 937.76L388.21 937.74L384.91 937.72L381.50 937.70L378.05 937.70L374.60 937.70L371.19 937.72L367.89 937.74L364.74 937.76L361.77 937.80L359.05 937.83L356.61 937.83L354.47 937.35L352.68 936.41L351.26 935.11L350.23 933.55L349.61 931.82L349.40 930.00Z" fill="#0b2231" filter="url(#b1)"/>
<path d="M353.00 930.00L353.18 928.61L353.73 927.30L354.63 926.16L355.87 925.29L357.43 924.78L359.30 924.73L361.44 924.77L363.82 924.80L366.41 924.84L369.17 924.86L372.06 924.88L375.03 924.90L378.05 924.90L381.07 924.90L384.04 924.88L386.93 924.86L389.69 924.84L392.28 924.80L394.66 924.77L396.80 924.73L398.67 924.78L400.23 925.29L401.47 926.16L402.37 927.30L402.92 928.61L403.10 930.00L403.10 930.00L402.92 931.39L402.37 932.70L401.47 933.84L400.23 934.71L398.67 935.22L396.80 935.27L394.66 935.23L392.28 935.20L389.69 935.16L386.93 935.14L384.04 935.12L381.07 935.10L378.05 935.10L375.03 935.10L372.06 935.12L369.17 935.14L366.41 935.16L363.82 935.20L361.44 935.23L359.30 935.27L357.43 935.22L355.87 934.71L354.63 933.84L353.73 932.70L353.18 931.39L353.00 930.00Z" fill="#271d1c" filter="url(#b1)"/>
<path d="M409.70 930.00L409.91 928.18L410.54 926.44L411.57 924.88L413.00 923.58L414.81 922.63L416.96 922.17L419.42 922.17L422.16 922.20L425.14 922.24L428.32 922.26L431.65 922.28L435.07 922.30L438.55 922.30L442.03 922.30L445.45 922.28L448.78 922.26L451.96 922.24L454.94 922.20L457.68 922.17L460.14 922.17L462.29 922.63L464.10 923.58L465.53 924.88L466.56 926.44L467.19 928.18L467.40 930.00L467.40 930.00L467.19 931.82L466.56 933.56L465.53 935.12L464.10 936.42L462.29 937.37L460.14 937.83L457.68 937.83L454.94 937.80L451.96 937.76L448.78 937.74L445.45 937.72L442.03 937.70L438.55 937.70L435.07 937.70L431.65 937.72L428.32 937.74L425.14 937.76L422.16 937.80L419.42 937.83L416.96 937.83L414.81 937.37L413.00 936.42L411.57 935.12L410.54 933.56L409.91 931.82L409.70 930.00Z" fill="#0b2231" filter="url(#b1)"/>
<path d="M413.30 930.00L413.48 928.60L414.03 927.29L414.94 926.15L416.19 925.28L417.77 924.78L419.65 924.73L421.81 924.77L424.21 924.80L426.82 924.84L429.60 924.86L432.51 924.88L435.51 924.90L438.55 924.90L441.59 924.90L444.59 924.88L447.50 924.86L450.28 924.84L452.89 924.80L455.29 924.77L457.45 924.73L459.33 924.78L460.91 925.28L462.16 926.15L463.07 927.29L463.62 928.60L463.80 930.00L463.80 930.00L463.62 931.40L463.07 932.71L462.16 933.85L460.91 934.72L459.33 935.22L457.45 935.27L455.29 935.23L452.89 935.20L450.28 935.16L447.50 935.14L444.59 935.12L441.59 935.10L438.55 935.10L435.51 935.10L432.51 935.12L429.60 935.14L426.82 935.16L424.21 935.20L421.81 935.23L419.65 935.27L417.77 935.22L416.19 934.72L414.94 933.85L414.03 932.71L413.48 931.40L413.30 930.00Z" fill="#271d1c" filter="url(#b1)"/>
<path d="M472.30 930.60L472.52 928.65L473.19 926.80L474.29 925.13L475.81 923.74L477.73 922.73L480.01 922.22L482.63 922.22L485.54 922.27L488.71 922.31L492.08 922.35L495.61 922.38L499.26 922.39L502.95 922.40L506.64 922.39L510.29 922.38L513.82 922.35L517.19 922.31L520.36 922.27L523.27 922.22L525.89 922.22L528.17 922.73L530.09 923.74L531.61 925.13L532.71 926.80L533.38 928.65L533.60 930.60L533.60 930.60L533.38 932.55L532.71 934.40L531.61 936.07L530.09 937.46L528.17 938.47L525.89 938.98L523.27 938.98L520.36 938.93L517.19 938.89L513.82 938.85L510.29 938.82L506.64 938.81L502.95 938.80L499.26 938.81L495.61 938.82L492.08 938.85L488.71 938.89L485.54 938.93L482.63 938.98L480.01 938.98L477.73 938.47L475.81 937.46L474.29 936.07L473.19 934.40L472.52 932.55L472.30 930.60Z" fill="#0b2231" filter="url(#b1)"/>
<path d="M475.90 930.60L476.10 929.08L476.69 927.64L477.66 926.39L479.00 925.42L480.69 924.85L482.70 924.78L485.01 924.82L487.58 924.87L490.38 924.91L493.36 924.95L496.48 924.98L499.69 924.99L502.95 925.00L506.21 924.99L509.42 924.98L512.54 924.95L515.52 924.91L518.32 924.87L520.89 924.82L523.20 924.78L525.21 924.85L526.90 925.42L528.24 926.39L529.21 927.64L529.80 929.08L530.00 930.60L530.00 930.60L529.80 932.12L529.21 933.56L528.24 934.81L526.90 935.78L525.21 936.35L523.20 936.42L520.89 936.38L518.32 936.33L515.52 936.29L512.54 936.25L509.42 936.22L506.21 936.21L502.95 936.20L499.69 936.21L496.48 936.22L493.36 936.25L490.38 936.29L487.58 936.33L485.01 936.38L482.70 936.42L480.69 936.35L479.00 935.78L477.66 934.81L476.69 933.56L476.10 932.12L475.90 930.60Z" fill="#271d1c" filter="url(#b1)"/>
<path d="M534.60 932.50L534.82 930.60L535.49 928.81L536.59 927.20L538.11 925.87L540.03 924.93L542.31 924.51L544.93 924.55L547.84 924.61L551.01 924.66L554.38 924.71L557.91 924.75L561.56 924.78L565.25 924.80L568.94 924.81L572.59 924.81L576.12 924.80L579.49 924.78L582.66 924.75L585.57 924.72L588.19 924.84L590.47 925.53L592.39 926.68L593.91 928.20L595.01 929.99L595.68 931.95L595.90 934.00L595.90 934.00L595.68 936.04L595.01 937.97L593.91 939.70L592.39 941.15L590.47 942.21L588.19 942.78L585.57 942.78L582.66 942.60L579.49 942.42L576.12 942.23L572.59 942.05L568.94 941.87L565.25 941.70L561.56 941.54L557.91 941.39L554.38 941.26L551.01 941.14L547.84 941.04L544.93 940.95L542.31 940.87L540.03 940.34L538.11 939.31L536.59 937.90L535.49 936.24L534.82 934.41L534.60 932.50Z" fill="#0b2231" filter="url(#b1)"/>
<path d="M538.20 932.50L538.40 931.03L538.99 929.66L539.96 928.48L541.30 927.58L542.99 927.10L545.00 927.10L547.31 927.15L549.88 927.21L552.68 927.26L555.66 927.31L558.78 927.35L561.99 927.38L565.25 927.40L568.51 927.41L571.72 927.41L574.84 927.40L577.82 927.38L580.62 927.35L583.19 927.32L585.50 927.28L587.51 927.56L589.20 928.31L590.54 929.43L591.51 930.81L592.10 932.37L592.30 934.00L592.30 934.00L592.10 935.62L591.51 937.15L590.54 938.47L589.20 939.52L587.51 940.18L585.50 940.34L583.19 940.18L580.62 940.00L577.82 939.82L574.84 939.63L571.72 939.45L568.51 939.27L565.25 939.10L561.99 938.94L558.78 938.79L555.66 938.66L552.68 938.54L549.88 938.44L547.31 938.35L545.00 938.28L542.99 938.16L541.30 937.59L539.96 936.62L538.99 935.38L538.40 933.98L538.20 932.50Z" fill="#271d1c" filter="url(#b1)"/>
<path d="M620.00 938.50L620.20 936.86L620.78 935.30L621.74 933.89L623.08 932.73L624.75 931.91L626.75 931.55L629.05 931.55L631.60 931.55L634.37 931.55L637.33 931.55L640.42 931.55L643.61 931.55L646.85 931.55L650.09 931.55L653.28 931.55L656.37 931.55L659.33 931.55L662.10 931.55L664.65 931.55L666.95 931.55L668.95 931.91L670.62 932.73L671.96 933.89L672.92 935.30L673.50 936.86L673.70 938.50L673.70 938.50L673.50 940.14L672.92 941.70L671.96 943.11L670.62 944.27L668.95 945.09L666.95 945.45L664.65 945.45L662.10 945.45L659.33 945.45L656.37 945.45L653.28 945.45L650.09 945.45L646.85 945.45L643.61 945.45L640.42 945.45L637.33 945.45L634.37 945.45L631.60 945.45L629.05 945.45L626.75 945.45L624.75 945.09L623.08 944.27L621.74 943.11L620.78 941.70L620.20 940.14L620.00 938.50Z" fill="#0b2231" filter="url(#b1)"/>
<path d="M623.60 938.50L623.77 937.30L624.28 936.17L625.11 935.20L626.26 934.49L627.72 934.16L629.45 934.15L631.43 934.15L633.64 934.15L636.05 934.15L638.61 934.15L641.29 934.15L644.05 934.15L646.85 934.15L649.65 934.15L652.41 934.15L655.09 934.15L657.65 934.15L660.06 934.15L662.27 934.15L664.25 934.15L665.98 934.16L667.44 934.49L668.59 935.20L669.42 936.17L669.93 937.30L670.10 938.50L670.10 938.50L669.93 939.70L669.42 940.83L668.59 941.80L667.44 942.51L665.98 942.84L664.25 942.85L662.27 942.85L660.06 942.85L657.65 942.85L655.09 942.85L652.41 942.85L649.65 942.85L646.85 942.85L644.05 942.85L641.29 942.85L638.61 942.85L636.05 942.85L633.64 942.85L631.43 942.85L629.45 942.85L627.72 942.84L626.26 942.51L625.11 941.80L624.28 940.83L623.77 939.70L623.60 938.50Z" fill="#271d1c" filter="url(#b1)"/>
<path d="M91.30 1019.50L91.48 1018.20L92.03 1016.98L92.93 1015.94L94.18 1015.17L95.75 1014.81L97.62 1014.80L99.77 1014.80L102.16 1014.80L104.76 1014.80L107.53 1014.80L110.43 1014.80L113.42 1014.80L116.45 1014.80L119.48 1014.80L122.47 1014.80L125.37 1014.80L128.14 1014.80L130.74 1014.80L133.13 1014.80L135.28 1014.80L137.15 1014.81L138.72 1015.17L139.97 1015.94L140.87 1016.98L141.42 1018.20L141.60 1019.50L141.60 1019.50L141.42 1020.80L140.87 1022.02L139.97 1023.06L138.72 1023.83L137.15 1024.19L135.28 1024.20L133.13 1024.20L130.74 1024.20L128.14 1024.20L125.37 1024.20L122.47 1024.20L119.48 1024.20L116.45 1024.20L113.42 1024.20L110.43 1024.20L107.53 1024.20L104.76 1024.20L102.16 1024.20L99.77 1024.20L97.62 1024.20L95.75 1024.19L94.18 1023.83L92.93 1023.06L92.03 1022.02L91.48 1020.80L91.30 1019.50Z" fill="#0b2231" filter="url(#b1)"/>
<path d="M94.90 1019.50L95.06 1018.70L95.53 1018.00L96.30 1017.52L97.37 1017.40L98.71 1017.40L100.32 1017.40L102.16 1017.40L104.21 1017.40L106.44 1017.40L108.81 1017.40L111.29 1017.40L113.85 1017.40L116.45 1017.40L119.05 1017.40L121.61 1017.40L124.09 1017.40L126.46 1017.40L128.69 1017.40L130.74 1017.40L132.58 1017.40L134.19 1017.40L135.53 1017.40L136.60 1017.52L137.37 1018.00L137.84 1018.70L138.00 1019.50L138.00 1019.50L137.84 1020.30L137.37 1021.00L136.60 1021.48L135.53 1021.60L134.19 1021.60L132.58 1021.60L130.74 1021.60L128.69 1021.60L126.46 1021.60L124.09 1021.60L121.61 1021.60L119.05 1021.60L116.45 1021.60L113.85 1021.60L111.29 1021.60L108.81 1021.60L106.44 1021.60L104.21 1021.60L102.16 1021.60L100.32 1021.60L98.71 1021.60L97.37 1021.60L96.30 1021.48L95.53 1021.00L95.06 1020.30L94.90 1019.50Z" fill="#271d1c" filter="url(#b1)"/>
<path d="M152.40 1019.00L152.60 1017.57L153.20 1016.23L154.20 1015.09L155.57 1014.26L157.30 1013.89L159.37 1013.91L161.73 1013.94L164.36 1013.97L167.23 1014.00L170.28 1014.02L173.47 1014.04L176.76 1014.05L180.10 1014.05L183.44 1014.05L186.73 1014.04L189.92 1014.02L192.97 1014.00L195.84 1013.97L198.47 1013.94L200.83 1013.91L202.90 1013.89L204.63 1014.26L206.00 1015.09L207.00 1016.23L207.60 1017.57L207.80 1019.00L207.80 1019.00L207.60 1020.43L207.00 1021.77L206.00 1022.91L204.63 1023.74L202.90 1024.11L200.83 1024.09L198.47 1024.06L195.84 1024.03L192.97 1024.00L189.92 1023.98L186.73 1023.96L183.44 1023.95L180.10 1023.95L176.76 1023.95L173.47 1023.96L170.28 1023.98L167.23 1024.00L164.36 1024.03L161.73 1024.06L159.37 1024.09L157.30 1024.11L155.57 1023.74L154.20 1022.91L153.20 1021.77L152.60 1020.43L152.40 1019.00Z" fill="#0b2231" filter="url(#b1)"/>
<path d="M156.00 1019.00L156.18 1018.06L156.70 1017.23L157.57 1016.64L158.76 1016.45L160.27 1016.48L162.06 1016.51L164.12 1016.54L166.41 1016.57L168.90 1016.60L171.55 1016.62L174.33 1016.64L177.20 1016.65L180.10 1016.65L183.00 1016.65L185.87 1016.64L188.65 1016.62L191.30 1016.60L193.79 1016.57L196.08 1016.54L198.14 1016.51L199.93 1016.48L201.44 1016.45L202.63 1016.64L203.50 1017.23L204.02 1018.06L204.20 1019.00L204.20 1019.00L204.02 1019.94L203.50 1020.77L202.63 1021.36L201.44 1021.55L199.93 1021.52L198.14 1021.49L196.08 1021.46L193.79 1021.43L191.30 1021.40L188.65 1021.38L185.87 1021.36L183.00 1021.35L180.10 1021.35L177.20 1021.35L174.33 1021.36L171.55 1021.38L168.90 1021.40L166.41 1021.43L164.12 1021.46L162.06 1021.49L160.27 1021.52L158.76 1021.55L157.57 1021.36L156.70 1020.77L156.18 1019.94L156.00 1019.00Z" fill="#271d1c" filter="url(#b1)"/>
<path d="M216.20 1018.00L216.40 1016.42L217.02 1014.93L218.03 1013.63L219.42 1012.61L221.17 1012.00L223.27 1011.91L225.67 1011.94L228.34 1011.97L231.24 1012.00L234.34 1012.02L237.58 1012.04L240.91 1012.05L244.30 1012.05L247.69 1012.05L251.02 1012.04L254.26 1012.02L257.36 1012.00L260.26 1011.97L262.93 1011.94L265.33 1011.91L267.43 1012.00L269.18 1012.61L270.57 1013.63L271.58 1014.93L272.20 1016.42L272.40 1018.00L272.40 1018.00L272.20 1019.58L271.58 1021.07L270.57 1022.37L269.18 1023.39L267.43 1024.00L265.33 1024.09L262.93 1024.06L260.26 1024.03L257.36 1024.00L254.26 1023.98L251.02 1023.96L247.69 1023.95L244.30 1023.95L240.91 1023.95L237.58 1023.96L234.34 1023.98L231.24 1024.00L228.34 1024.03L225.67 1024.06L223.27 1024.09L221.17 1024.00L219.42 1023.39L218.03 1022.37L217.02 1021.07L216.40 1019.58L216.20 1018.00Z" fill="#0b2231" filter="url(#b1)"/>
<path d="M219.80 1018.00L219.98 1016.88L220.51 1015.86L221.39 1015.04L222.61 1014.54L224.14 1014.48L225.96 1014.51L228.05 1014.54L230.38 1014.57L232.91 1014.60L235.61 1014.62L238.44 1014.64L241.35 1014.65L244.30 1014.65L247.25 1014.65L250.16 1014.64L252.99 1014.62L255.69 1014.60L258.22 1014.57L260.55 1014.54L262.64 1014.51L264.46 1014.48L265.99 1014.54L267.21 1015.04L268.09 1015.86L268.62 1016.88L268.80 1018.00L268.80 1018.00L268.62 1019.12L268.09 1020.14L267.21 1020.96L265.99 1021.46L264.46 1021.52L262.64 1021.49L260.55 1021.46L258.22 1021.43L255.69 1021.40L252.99 1021.38L250.16 1021.36L247.25 1021.35L244.30 1021.35L241.35 1021.35L238.44 1021.36L235.61 1021.38L232.91 1021.40L230.38 1021.43L228.05 1021.46L225.96 1021.49L224.14 1021.52L222.61 1021.46L221.39 1020.96L220.51 1020.14L219.98 1019.12L219.80 1018.00Z" fill="#271d1c" filter="url(#b1)"/>
<path d="M279.70 1017.20L279.91 1015.59L280.55 1014.08L281.59 1012.76L283.03 1011.75L284.85 1011.17L287.02 1011.11L289.50 1011.14L292.27 1011.17L295.28 1011.20L298.48 1011.22L301.84 1011.24L305.29 1011.25L308.80 1011.25L312.31 1011.25L315.76 1011.24L319.12 1011.22L322.32 1011.20L325.33 1011.17L328.10 1011.14L330.58 1011.11L332.75 1011.17L334.57 1011.75L336.01 1012.76L337.05 1014.08L337.69 1015.59L337.90 1017.20L337.90 1017.20L337.69 1018.81L337.05 1020.32L336.01 1021.64L334.57 1022.65L332.75 1023.23L330.58 1023.29L328.10 1023.26L325.33 1023.23L322.32 1023.20L319.12 1023.18L315.76 1023.16L312.31 1023.15L308.80 1023.15L305.29 1023.15L301.84 1023.16L298.48 1023.18L295.28 1023.20L292.27 1023.23L289.50 1023.26L287.02 1023.29L284.85 1023.23L283.03 1022.65L281.59 1021.64L280.55 1020.32L279.91 1018.81L279.70 1017.20Z" fill="#0b2231" filter="url(#b1)"/>
<path d="M283.30 1017.20L283.49 1016.06L284.04 1015.02L284.96 1014.20L286.22 1013.72L287.81 1013.68L289.71 1013.71L291.89 1013.74L294.31 1013.77L296.95 1013.80L299.76 1013.82L302.70 1013.84L305.73 1013.85L308.80 1013.85L311.87 1013.85L314.90 1013.84L317.84 1013.82L320.65 1013.80L323.29 1013.77L325.71 1013.74L327.89 1013.71L329.79 1013.68L331.38 1013.72L332.64 1014.20L333.56 1015.02L334.11 1016.06L334.30 1017.20L334.30 1017.20L334.11 1018.34L333.56 1019.38L332.64 1020.20L331.38 1020.68L329.79 1020.72L327.89 1020.69L325.71 1020.66L323.29 1020.63L320.65 1020.60L317.84 1020.58L314.90 1020.56L311.87 1020.55L308.80 1020.55L305.73 1020.55L302.70 1020.56L299.76 1020.58L296.95 1020.60L294.31 1020.63L291.89 1020.66L289.71 1020.69L287.81 1020.72L286.22 1020.68L284.96 1020.20L284.04 1019.38L283.49 1018.34L283.30 1017.20Z" fill="#271d1c" filter="url(#b1)"/>
<path d="M344.20 1016.40L344.42 1014.71L345.06 1013.12L346.13 1011.72L347.60 1010.61L349.46 1009.94L351.67 1009.81L354.21 1009.84L357.03 1009.87L360.10 1009.90L363.37 1009.92L366.79 1009.94L370.32 1009.95L373.90 1009.95L377.48 1009.95L381.01 1009.94L384.43 1009.92L387.70 1009.90L390.77 1009.87L393.59 1009.84L396.13 1009.81L398.34 1009.94L400.20 1010.61L401.67 1011.72L402.74 1013.12L403.38 1014.71L403.60 1016.40L403.60 1016.40L403.38 1018.09L402.74 1019.68L401.67 1021.08L400.20 1022.19L398.34 1022.86L396.13 1022.99L393.59 1022.96L390.77 1022.93L387.70 1022.90L384.43 1022.88L381.01 1022.86L377.48 1022.85L373.90 1022.85L370.32 1022.85L366.79 1022.86L363.37 1022.88L360.10 1022.90L357.03 1022.93L354.21 1022.96L351.67 1022.99L349.46 1022.86L347.60 1022.19L346.13 1021.08L345.06 1019.68L344.42 1018.09L344.20 1016.40Z" fill="#0b2231" filter="url(#b1)"/>
<path d="M347.80 1016.40L347.99 1015.17L348.56 1014.03L349.50 1013.10L350.79 1012.51L352.42 1012.38L354.36 1012.41L356.59 1012.44L359.07 1012.47L361.77 1012.50L364.64 1012.52L367.65 1012.54L370.75 1012.55L373.90 1012.55L377.05 1012.55L380.15 1012.54L383.16 1012.52L386.03 1012.50L388.73 1012.47L391.21 1012.44L393.44 1012.41L395.38 1012.38L397.01 1012.51L398.30 1013.10L399.24 1014.03L399.81 1015.17L400.00 1016.40L400.00 1016.40L399.81 1017.63L399.24 1018.77L398.30 1019.70L397.01 1020.29L395.38 1020.42L393.44 1020.39L391.21 1020.36L388.73 1020.33L386.03 1020.30L383.16 1020.28L380.15 1020.26L377.05 1020.25L373.90 1020.25L370.75 1020.25L367.65 1020.26L364.64 1020.28L361.77 1020.30L359.07 1020.33L356.59 1020.36L354.36 1020.39L352.42 1020.42L350.79 1020.29L349.50 1019.70L348.56 1018.77L347.99 1017.63L347.80 1016.40Z" fill="#271d1c" filter="url(#b1)"/>
<path d="M409.70 1016.40L409.91 1014.54L410.56 1012.76L411.61 1011.15L413.07 1009.81L414.91 1008.84L417.11 1008.35L419.62 1008.34L422.42 1008.37L425.46 1008.40L428.71 1008.42L432.10 1008.44L435.60 1008.45L439.15 1008.45L442.70 1008.45L446.20 1008.44L449.59 1008.42L452.84 1008.40L455.88 1008.37L458.68 1008.34L461.19 1008.35L463.39 1008.84L465.23 1009.81L466.69 1011.15L467.74 1012.76L468.39 1014.54L468.60 1016.40L468.60 1016.40L468.39 1018.26L467.74 1020.04L466.69 1021.65L465.23 1022.99L463.39 1023.96L461.19 1024.45L458.68 1024.46L455.88 1024.43L452.84 1024.40L449.59 1024.38L446.20 1024.36L442.70 1024.35L439.15 1024.35L435.60 1024.35L432.10 1024.36L428.71 1024.38L425.46 1024.40L422.42 1024.43L419.62 1024.46L417.11 1024.45L414.91 1023.96L413.07 1022.99L411.61 1021.65L410.56 1020.04L409.91 1018.26L409.70 1016.40Z" fill="#0b2231" filter="url(#b1)"/>
<path d="M413.30 1016.40L413.49 1014.96L414.05 1013.61L414.98 1012.42L416.26 1011.51L417.88 1010.97L419.80 1010.91L422.01 1010.94L424.47 1010.97L427.14 1011.00L429.98 1011.02L432.96 1011.04L436.03 1011.05L439.15 1011.05L442.27 1011.05L445.34 1011.04L448.32 1011.02L451.16 1011.00L453.83 1010.97L456.29 1010.94L458.50 1010.91L460.42 1010.97L462.04 1011.51L463.32 1012.42L464.25 1013.61L464.81 1014.96L465.00 1016.40L465.00 1016.40L464.81 1017.84L464.25 1019.19L463.32 1020.38L462.04 1021.29L460.42 1021.83L458.50 1021.89L456.29 1021.86L453.83 1021.83L451.16 1021.80L448.32 1021.78L445.34 1021.76L442.27 1021.75L439.15 1021.75L436.03 1021.75L432.96 1021.76L429.98 1021.78L427.14 1021.80L424.47 1021.83L422.01 1021.86L419.80 1021.89L417.88 1021.83L416.26 1021.29L414.98 1020.38L414.05 1019.19L413.49 1017.84L413.30 1016.40Z" fill="#271d1c" filter="url(#b1)"/>
<path d="M474.70 1017.60L474.91 1015.96L475.53 1014.41L476.55 1013.05L477.96 1011.98L479.74 1011.31L481.87 1011.18L484.30 1011.22L487.01 1011.27L489.96 1011.31L493.09 1011.35L496.38 1011.38L499.76 1011.39L503.20 1011.40L506.64 1011.39L510.02 1011.38L513.31 1011.35L516.44 1011.31L519.39 1011.27L522.10 1011.22L524.53 1011.18L526.66 1011.31L528.44 1011.98L529.85 1013.05L530.87 1014.41L531.49 1015.96L531.70 1017.60L531.70 1017.60L531.49 1019.24L530.87 1020.79L529.85 1022.15L528.44 1023.22L526.66 1023.89L524.53 1024.02L522.10 1023.98L519.39 1023.93L516.44 1023.89L513.31 1023.85L510.02 1023.82L506.64 1023.81L503.20 1023.80L499.76 1023.81L496.38 1023.82L493.09 1023.85L489.96 1023.89L487.01 1023.93L484.30 1023.98L481.87 1024.02L479.74 1023.89L477.96 1023.22L476.55 1022.15L475.53 1020.79L474.91 1019.24L474.70 1017.60Z" fill="#0b2231" filter="url(#b1)"/>
<path d="M478.30 1017.60L478.48 1016.41L479.02 1015.32L479.92 1014.43L481.15 1013.85L482.71 1013.73L484.56 1013.78L486.69 1013.82L489.06 1013.87L491.63 1013.91L494.37 1013.95L497.24 1013.98L500.20 1013.99L503.20 1014.00L506.20 1013.99L509.16 1013.98L512.03 1013.95L514.77 1013.91L517.34 1013.87L519.71 1013.82L521.84 1013.78L523.69 1013.73L525.25 1013.85L526.48 1014.43L527.38 1015.32L527.92 1016.41L528.10 1017.60L528.10 1017.60L527.92 1018.79L527.38 1019.88L526.48 1020.77L525.25 1021.35L523.69 1021.47L521.84 1021.42L519.71 1021.38L517.34 1021.33L514.77 1021.29L512.03 1021.25L509.16 1021.22L506.20 1021.21L503.20 1021.20L500.20 1021.21L497.24 1021.22L494.37 1021.25L491.63 1021.29L489.06 1021.33L486.69 1021.38L484.56 1021.42L482.71 1021.47L481.15 1021.35L479.92 1020.77L479.02 1019.88L478.48 1018.79L478.30 1017.60Z" fill="#271d1c" filter="url(#b1)"/>
<path d="M540.50 1019.60L540.69 1018.21L541.26 1016.91L542.20 1015.80L543.50 1014.97L545.13 1014.56L547.08 1014.59L549.31 1014.65L551.80 1014.71L554.50 1014.78L557.38 1014.85L560.39 1014.92L563.50 1014.98L566.65 1015.05L569.80 1015.11L572.91 1015.17L575.92 1015.22L578.80 1015.27L581.50 1015.31L583.99 1015.34L586.22 1015.37L588.17 1015.41L589.80 1015.82L591.10 1016.65L592.04 1017.75L592.61 1019.04L592.80 1020.40L592.80 1020.40L592.61 1021.76L592.04 1023.02L591.10 1024.10L589.80 1024.89L588.17 1025.25L586.22 1025.23L583.99 1025.19L581.50 1025.15L578.80 1025.10L575.92 1025.06L572.91 1025.02L569.80 1024.98L566.65 1024.95L563.50 1024.92L560.39 1024.89L557.38 1024.87L554.50 1024.85L551.80 1024.83L549.31 1024.82L547.08 1024.81L545.13 1024.78L543.50 1024.32L542.20 1023.45L541.26 1022.31L540.69 1021.00L540.50 1019.60Z" fill="#0b2231" filter="url(#b1)"/>
<path d="M544.10 1019.60L544.26 1018.69L544.76 1017.89L545.57 1017.31L546.68 1017.09L548.09 1017.13L549.77 1017.19L551.70 1017.25L553.84 1017.31L556.17 1017.38L558.65 1017.45L561.25 1017.52L563.93 1017.58L566.65 1017.65L569.37 1017.71L572.05 1017.77L574.65 1017.82L577.13 1017.87L579.46 1017.91L581.60 1017.94L583.53 1017.97L585.21 1018.00L586.62 1018.02L587.73 1018.20L588.54 1018.76L589.04 1019.53L589.20 1020.40L589.20 1020.40L589.04 1021.26L588.54 1022.01L587.73 1022.54L586.62 1022.69L585.21 1022.66L583.53 1022.63L581.60 1022.59L579.46 1022.55L577.13 1022.50L574.65 1022.46L572.05 1022.42L569.37 1022.38L566.65 1022.35L563.93 1022.32L561.25 1022.29L558.65 1022.27L556.17 1022.25L553.84 1022.23L551.70 1022.22L549.77 1022.21L548.09 1022.21L546.68 1022.20L545.57 1021.94L544.76 1021.33L544.26 1020.51L544.10 1019.60Z" fill="#271d1c" filter="url(#b1)"/>
<path d="M617.90 1023.00L618.10 1021.39L618.69 1019.86L619.66 1018.49L621.00 1017.39L622.70 1016.65L624.72 1016.41L627.03 1016.44L629.61 1016.47L632.41 1016.50L635.39 1016.52L638.51 1016.54L641.73 1016.55L645.00 1016.55L648.27 1016.55L651.49 1016.54L654.61 1016.52L657.59 1016.50L660.39 1016.47L662.97 1016.44L665.28 1016.41L667.30 1016.65L669.00 1017.39L670.34 1018.49L671.31 1019.86L671.90 1021.39L672.10 1023.00L672.10 1023.00L671.90 1024.61L671.31 1026.14L670.34 1027.51L669.00 1028.61L667.30 1029.35L665.28 1029.59L662.97 1029.56L660.39 1029.53L657.59 1029.50L654.61 1029.48L651.49 1029.46L648.27 1029.45L645.00 1029.45L641.73 1029.45L638.51 1029.46L635.39 1029.48L632.41 1029.50L629.61 1029.53L627.03 1029.56L624.72 1029.59L622.70 1029.35L621.00 1028.61L619.66 1027.51L618.69 1026.14L618.10 1024.61L617.90 1023.00Z" fill="#0b2231" filter="url(#b1)"/>
<path d="M621.50 1023.00L621.67 1021.83L622.18 1020.74L623.03 1019.83L624.19 1019.20L625.66 1018.98L627.41 1019.01L629.42 1019.04L631.65 1019.07L634.08 1019.10L636.67 1019.12L639.38 1019.14L642.17 1019.15L645.00 1019.15L647.83 1019.15L650.62 1019.14L653.33 1019.12L655.92 1019.10L658.35 1019.07L660.58 1019.04L662.59 1019.01L664.34 1018.98L665.81 1019.20L666.97 1019.83L667.82 1020.74L668.33 1021.83L668.50 1023.00L668.50 1023.00L668.33 1024.17L667.82 1025.26L666.97 1026.17L665.81 1026.80L664.34 1027.02L662.59 1026.99L660.58 1026.96L658.35 1026.93L655.92 1026.90L653.33 1026.88L650.62 1026.86L647.83 1026.85L645.00 1026.85L642.17 1026.85L639.38 1026.86L636.67 1026.88L634.08 1026.90L631.65 1026.93L629.42 1026.96L627.41 1026.99L625.66 1027.02L624.19 1026.80L623.03 1026.17L622.18 1025.26L621.67 1024.17L621.50 1023.00Z" fill="#271d1c" filter="url(#b1)"/>
<path d="M94.10 1088.40L94.33 1086.46L95.00 1084.60L96.12 1082.93L97.66 1081.55L99.60 1080.56L101.91 1080.10L104.56 1080.11L107.51 1080.14L110.72 1080.16L114.14 1080.19L117.72 1080.20L121.41 1080.20L125.15 1080.20L128.89 1080.19L132.58 1080.16L136.16 1080.13L139.58 1080.09L142.79 1080.05L145.74 1080.01L148.39 1079.96L150.70 1080.21L152.64 1081.04L154.18 1082.28L155.30 1083.83L155.97 1085.56L156.20 1087.40L156.20 1087.40L155.97 1089.24L155.30 1091.00L154.18 1092.58L152.64 1093.87L150.70 1094.76L148.39 1095.09L145.74 1095.13L142.79 1095.18L139.58 1095.24L136.16 1095.31L132.58 1095.40L128.89 1095.49L125.15 1095.60L121.41 1095.72L117.72 1095.84L114.14 1095.97L110.72 1096.10L107.51 1096.23L104.56 1096.36L101.91 1096.45L99.60 1096.06L97.66 1095.13L96.12 1093.80L95.00 1092.17L94.33 1090.34L94.10 1088.40Z" fill="#0b2231" filter="url(#b1)"/>
<path d="M97.70 1088.40L97.90 1086.88L98.50 1085.45L99.48 1084.21L100.84 1083.26L102.56 1082.72L104.60 1082.67L106.95 1082.71L109.56 1082.74L112.39 1082.76L115.42 1082.79L118.58 1082.80L121.84 1082.80L125.15 1082.80L128.46 1082.79L131.72 1082.76L134.88 1082.73L137.91 1082.69L140.74 1082.65L143.35 1082.61L145.70 1082.56L147.74 1082.52L149.46 1082.83L150.82 1083.61L151.80 1084.71L152.40 1086.00L152.60 1087.40L152.60 1087.40L152.40 1088.80L151.80 1090.12L150.82 1091.25L149.46 1092.08L147.74 1092.46L145.70 1092.49L143.35 1092.53L140.74 1092.58L137.91 1092.64L134.88 1092.71L131.72 1092.80L128.46 1092.89L125.15 1093.00L121.84 1093.12L118.58 1093.24L115.42 1093.37L112.39 1093.50L109.56 1093.63L106.95 1093.76L104.60 1093.87L102.56 1093.90L100.84 1093.42L99.48 1092.52L98.50 1091.32L97.90 1089.91L97.70 1088.40Z" fill="#271d1c" filter="url(#b1)"/>
<path d="M156.30 1086.70L156.52 1084.88L157.18 1083.15L158.28 1081.60L159.79 1080.34L161.69 1079.47L163.96 1079.17L166.56 1079.18L169.45 1079.20L172.60 1079.22L175.95 1079.23L179.46 1079.24L183.08 1079.25L186.75 1079.25L190.42 1079.25L194.04 1079.24L197.55 1079.23L200.90 1079.22L204.05 1079.20L206.94 1079.18L209.54 1079.17L211.81 1079.47L213.71 1080.34L215.22 1081.60L216.32 1083.15L216.98 1084.88L217.20 1086.70L217.20 1086.70L216.98 1088.52L216.32 1090.25L215.22 1091.80L213.71 1093.06L211.81 1093.93L209.54 1094.23L206.94 1094.22L204.05 1094.20L200.90 1094.18L197.55 1094.17L194.04 1094.16L190.42 1094.15L186.75 1094.15L183.08 1094.15L179.46 1094.16L175.95 1094.17L172.60 1094.18L169.45 1094.20L166.56 1094.22L163.96 1094.23L161.69 1093.93L159.79 1093.06L158.28 1091.80L157.18 1090.25L156.52 1088.52L156.30 1086.70Z" fill="#0b2231" filter="url(#b1)"/>
<path d="M159.90 1086.70L160.10 1085.32L160.68 1084.02L161.64 1082.92L162.98 1082.12L164.65 1081.75L166.65 1081.77L168.95 1081.78L171.50 1081.80L174.27 1081.82L177.23 1081.83L180.32 1081.84L183.51 1081.85L186.75 1081.85L189.99 1081.85L193.18 1081.84L196.27 1081.83L199.23 1081.82L202.00 1081.80L204.55 1081.78L206.85 1081.77L208.85 1081.75L210.52 1082.12L211.86 1082.92L212.82 1084.02L213.40 1085.32L213.60 1086.70L213.60 1086.70L213.40 1088.08L212.82 1089.38L211.86 1090.48L210.52 1091.28L208.85 1091.65L206.85 1091.63L204.55 1091.62L202.00 1091.60L199.23 1091.58L196.27 1091.57L193.18 1091.56L189.99 1091.55L186.75 1091.55L183.51 1091.55L180.32 1091.56L177.23 1091.57L174.27 1091.58L171.50 1091.60L168.95 1091.62L166.65 1091.63L164.65 1091.65L162.98 1091.28L161.64 1090.48L160.68 1089.38L160.10 1088.08L159.90 1086.70Z" fill="#271d1c" filter="url(#b1)"/>
<path d="M220.20 1086.70L220.41 1084.91L221.05 1083.21L222.10 1081.68L223.55 1080.43L225.38 1079.54L227.56 1079.17L230.05 1079.18L232.83 1079.20L235.86 1079.22L239.08 1079.23L242.45 1079.24L245.92 1079.25L249.45 1079.25L252.98 1079.25L256.45 1079.24L259.82 1079.23L263.04 1079.22L266.07 1079.20L268.85 1079.18L271.34 1079.17L273.52 1079.54L275.35 1080.43L276.80 1081.68L277.85 1083.21L278.49 1084.91L278.70 1086.70L278.70 1086.70L278.49 1088.49L277.85 1090.19L276.80 1091.72L275.35 1092.97L273.52 1093.86L271.34 1094.23L268.85 1094.22L266.07 1094.20L263.04 1094.18L259.82 1094.17L256.45 1094.16L252.98 1094.15L249.45 1094.15L245.92 1094.15L242.45 1094.16L239.08 1094.17L235.86 1094.18L232.83 1094.20L230.05 1094.22L227.56 1094.23L225.38 1093.86L223.55 1092.97L222.10 1091.72L221.05 1090.19L220.41 1088.49L220.20 1086.70Z" fill="#0b2231" filter="url(#b1)"/>
<path d="M223.80 1086.70L223.99 1085.35L224.55 1084.08L225.47 1082.99L226.74 1082.17L228.34 1081.77L230.25 1081.77L232.44 1081.78L234.88 1081.80L237.53 1081.82L240.35 1081.83L243.31 1081.84L246.36 1081.85L249.45 1081.85L252.54 1081.85L255.59 1081.84L258.55 1081.83L261.37 1081.82L264.02 1081.80L266.46 1081.78L268.65 1081.77L270.56 1081.77L272.16 1082.17L273.43 1082.99L274.35 1084.08L274.91 1085.35L275.10 1086.70L275.10 1086.70L274.91 1088.05L274.35 1089.32L273.43 1090.41L272.16 1091.23L270.56 1091.63L268.65 1091.63L266.46 1091.62L264.02 1091.60L261.37 1091.58L258.55 1091.57L255.59 1091.56L252.54 1091.55L249.45 1091.55L246.36 1091.55L243.31 1091.56L240.35 1091.57L237.53 1091.58L234.88 1091.60L232.44 1091.62L230.25 1091.63L228.34 1091.63L226.74 1091.23L225.47 1090.41L224.55 1089.32L223.99 1088.05L223.80 1086.70Z" fill="#271d1c" filter="url(#b1)"/>
<path d="M282.50 1086.70L282.72 1084.90L283.36 1083.19L284.43 1081.66L285.90 1080.40L287.75 1079.52L289.96 1079.17L292.49 1079.18L295.31 1079.20L298.37 1079.22L301.64 1079.23L305.05 1079.24L308.58 1079.25L312.15 1079.25L315.72 1079.25L319.25 1079.24L322.66 1079.23L325.93 1079.22L328.99 1079.20L331.81 1079.18L334.34 1079.17L336.55 1079.52L338.40 1080.40L339.87 1081.66L340.94 1083.19L341.58 1084.90L341.80 1086.70L341.80 1086.70L341.58 1088.50L340.94 1090.21L339.87 1091.74L338.40 1093.00L336.55 1093.88L334.34 1094.23L331.81 1094.22L328.99 1094.20L325.93 1094.18L322.66 1094.17L319.25 1094.16L315.72 1094.15L312.15 1094.15L308.58 1094.15L305.05 1094.16L301.64 1094.17L298.37 1094.18L295.31 1094.20L292.49 1094.22L289.96 1094.23L287.75 1093.88L285.90 1093.00L284.43 1091.74L283.36 1090.21L282.72 1088.50L282.50 1086.70Z" fill="#0b2231" filter="url(#b1)"/>
<path d="M286.10 1086.70L286.29 1085.34L286.86 1084.06L287.79 1082.96L289.08 1082.15L290.71 1081.76L292.65 1081.77L294.88 1081.78L297.35 1081.80L300.04 1081.82L302.91 1081.83L305.92 1081.84L309.01 1081.85L312.15 1081.85L315.29 1081.85L318.38 1081.84L321.39 1081.83L324.26 1081.82L326.95 1081.80L329.42 1081.78L331.65 1081.77L333.59 1081.76L335.22 1082.15L336.51 1082.96L337.44 1084.06L338.01 1085.34L338.20 1086.70L338.20 1086.70L338.01 1088.06L337.44 1089.34L336.51 1090.44L335.22 1091.25L333.59 1091.64L331.65 1091.63L329.42 1091.62L326.95 1091.60L324.26 1091.58L321.39 1091.57L318.38 1091.56L315.29 1091.55L312.15 1091.55L309.01 1091.55L305.92 1091.56L302.91 1091.57L300.04 1091.58L297.35 1091.60L294.88 1091.62L292.65 1091.63L290.71 1091.64L289.08 1091.25L287.79 1090.44L286.86 1089.34L286.29 1088.06L286.10 1086.70Z" fill="#271d1c" filter="url(#b1)"/>
<path d="M347.40 1086.70L347.62 1084.89L348.27 1083.17L349.35 1081.63L350.84 1080.37L352.72 1079.50L354.96 1079.17L357.52 1079.18L360.38 1079.20L363.49 1079.22L366.79 1079.23L370.26 1079.24L373.83 1079.25L377.45 1079.25L381.07 1079.25L384.64 1079.24L388.11 1079.23L391.41 1079.22L394.52 1079.20L397.38 1079.18L399.94 1079.17L402.18 1079.50L404.06 1080.37L405.55 1081.63L406.63 1083.17L407.28 1084.89L407.50 1086.70L407.50 1086.70L407.28 1088.51L406.63 1090.23L405.55 1091.77L404.06 1093.03L402.18 1093.90L399.94 1094.23L397.38 1094.22L394.52 1094.20L391.41 1094.18L388.11 1094.17L384.64 1094.16L381.07 1094.15L377.45 1094.15L373.83 1094.15L370.26 1094.16L366.79 1094.17L363.49 1094.18L360.38 1094.20L357.52 1094.22L354.96 1094.23L352.72 1093.90L350.84 1093.03L349.35 1091.77L348.27 1090.23L347.62 1088.51L347.40 1086.70Z" fill="#0b2231" filter="url(#b1)"/>
<path d="M351.00 1086.70L351.19 1085.33L351.77 1084.04L352.72 1082.94L354.03 1082.13L355.68 1081.76L357.65 1081.77L359.91 1081.78L362.42 1081.80L365.16 1081.82L368.07 1081.83L371.12 1081.84L374.26 1081.85L377.45 1081.85L380.64 1081.85L383.78 1081.84L386.83 1081.83L389.74 1081.82L392.48 1081.80L394.99 1081.78L397.25 1081.77L399.22 1081.76L400.87 1082.13L402.18 1082.94L403.13 1084.04L403.71 1085.33L403.90 1086.70L403.90 1086.70L403.71 1088.07L403.13 1089.36L402.18 1090.46L400.87 1091.27L399.22 1091.64L397.25 1091.63L394.99 1091.62L392.48 1091.60L389.74 1091.58L386.83 1091.57L383.78 1091.56L380.64 1091.55L377.45 1091.55L374.26 1091.55L371.12 1091.56L368.07 1091.57L365.16 1091.58L362.42 1091.60L359.91 1091.62L357.65 1091.63L355.68 1091.64L354.03 1091.27L352.72 1090.46L351.77 1089.36L351.19 1088.07L351.00 1086.70Z" fill="#271d1c" filter="url(#b1)"/>
<path d="M411.60 1086.70L411.82 1084.91L412.46 1083.20L413.52 1081.67L414.98 1080.41L416.82 1079.53L419.02 1079.17L421.54 1079.18L424.34 1079.20L427.39 1079.22L430.64 1079.23L434.04 1079.24L437.54 1079.25L441.10 1079.25L444.66 1079.25L448.16 1079.24L451.56 1079.23L454.81 1079.22L457.86 1079.20L460.66 1079.18L463.18 1079.17L465.38 1079.53L467.22 1080.41L468.68 1081.67L469.74 1083.20L470.38 1084.91L470.60 1086.70L470.60 1086.70L470.38 1088.49L469.74 1090.20L468.68 1091.73L467.22 1092.99L465.38 1093.87L463.18 1094.23L460.66 1094.22L457.86 1094.20L454.81 1094.18L451.56 1094.17L448.16 1094.16L444.66 1094.15L441.10 1094.15L437.54 1094.15L434.04 1094.16L430.64 1094.17L427.39 1094.18L424.34 1094.20L421.54 1094.22L419.02 1094.23L416.82 1093.87L414.98 1092.99L413.52 1091.73L412.46 1090.20L411.82 1088.49L411.60 1086.70Z" fill="#0b2231" filter="url(#b1)"/>
<path d="M415.20 1086.70L415.39 1085.34L415.95 1084.07L416.88 1082.97L418.17 1082.16L419.78 1081.77L421.71 1081.77L423.93 1081.78L426.39 1081.80L429.06 1081.82L431.92 1081.83L434.90 1081.84L437.98 1081.85L441.10 1081.85L444.22 1081.85L447.30 1081.84L450.28 1081.83L453.14 1081.82L455.81 1081.80L458.27 1081.78L460.49 1081.77L462.42 1081.77L464.03 1082.16L465.32 1082.97L466.25 1084.07L466.81 1085.34L467.00 1086.70L467.00 1086.70L466.81 1088.06L466.25 1089.33L465.32 1090.43L464.03 1091.24L462.42 1091.63L460.49 1091.63L458.27 1091.62L455.81 1091.60L453.14 1091.58L450.28 1091.57L447.30 1091.56L444.22 1091.55L441.10 1091.55L437.98 1091.55L434.90 1091.56L431.92 1091.57L429.06 1091.58L426.39 1091.60L423.93 1091.62L421.71 1091.63L419.78 1091.63L418.17 1091.24L416.88 1090.43L415.95 1089.33L415.39 1088.06L415.20 1086.70Z" fill="#271d1c" filter="url(#b1)"/>
<path d="M475.50 1086.70L475.71 1084.91L476.36 1083.20L477.41 1081.67L478.87 1080.41L480.71 1079.53L482.91 1079.17L485.42 1079.18L488.22 1079.20L491.26 1079.22L494.51 1079.23L497.90 1079.24L501.40 1079.25L504.95 1079.25L508.50 1079.25L512.00 1079.24L515.39 1079.23L518.64 1079.22L521.68 1079.20L524.48 1079.18L526.99 1079.17L529.19 1079.53L531.03 1080.41L532.49 1081.67L533.54 1083.20L534.19 1084.91L534.40 1086.70L534.40 1086.70L534.19 1088.49L533.54 1090.20L532.49 1091.73L531.03 1092.99L529.19 1093.87L526.99 1094.23L524.48 1094.22L521.68 1094.20L518.64 1094.18L515.39 1094.17L512.00 1094.16L508.50 1094.15L504.95 1094.15L501.40 1094.15L497.90 1094.16L494.51 1094.17L491.26 1094.18L488.22 1094.20L485.42 1094.22L482.91 1094.23L480.71 1093.87L478.87 1092.99L477.41 1091.73L476.36 1090.20L475.71 1088.49L475.50 1086.70Z" fill="#0b2231" filter="url(#b1)"/>
<path d="M479.10 1086.70L479.29 1085.34L479.85 1084.07L480.78 1082.98L482.06 1082.16L483.68 1081.77L485.60 1081.77L487.81 1081.78L490.27 1081.80L492.94 1081.82L495.78 1081.83L498.76 1081.84L501.83 1081.85L504.95 1081.85L508.07 1081.85L511.14 1081.84L514.12 1081.83L516.96 1081.82L519.63 1081.80L522.09 1081.78L524.30 1081.77L526.22 1081.77L527.84 1082.16L529.12 1082.98L530.05 1084.07L530.61 1085.34L530.80 1086.70L530.80 1086.70L530.61 1088.06L530.05 1089.33L529.12 1090.42L527.84 1091.24L526.22 1091.63L524.30 1091.63L522.09 1091.62L519.63 1091.60L516.96 1091.58L514.12 1091.57L511.14 1091.56L508.07 1091.55L504.95 1091.55L501.83 1091.55L498.76 1091.56L495.78 1091.57L492.94 1091.58L490.27 1091.60L487.81 1091.62L485.60 1091.63L483.68 1091.63L482.06 1091.24L480.78 1090.42L479.85 1089.33L479.29 1088.06L479.10 1086.70Z" fill="#271d1c" filter="url(#b1)"/>
<path d="M538.50 1088.60L538.72 1086.74L539.37 1084.98L540.46 1083.41L541.95 1082.12L543.83 1081.22L546.07 1080.84L548.64 1080.90L551.50 1080.98L554.61 1081.05L557.93 1081.12L561.40 1081.19L564.97 1081.25L568.60 1081.30L572.23 1081.34L575.80 1081.38L579.27 1081.40L582.59 1081.42L585.70 1081.43L588.56 1081.43L591.13 1081.44L593.37 1081.88L595.25 1082.83L596.74 1084.16L597.83 1085.76L598.48 1087.54L598.70 1089.40L598.70 1089.40L598.48 1091.26L597.83 1093.02L596.74 1094.59L595.25 1095.88L593.37 1096.78L591.13 1097.16L588.56 1097.10L585.70 1097.02L582.59 1096.95L579.27 1096.88L575.80 1096.81L572.23 1096.75L568.60 1096.70L564.97 1096.66L561.40 1096.62L557.93 1096.60L554.61 1096.58L551.50 1096.57L548.64 1096.57L546.07 1096.56L543.83 1096.12L541.95 1095.17L540.46 1093.84L539.37 1092.24L538.72 1090.46L538.50 1088.60Z" fill="#0b2231" filter="url(#b1)"/>
<path d="M542.10 1088.60L542.29 1087.17L542.87 1085.84L543.82 1084.70L545.14 1083.85L546.79 1083.41L548.76 1083.43L551.03 1083.50L553.55 1083.58L556.28 1083.65L559.20 1083.72L562.26 1083.79L565.41 1083.85L568.60 1083.90L571.79 1083.94L574.94 1083.98L578.00 1084.00L580.92 1084.02L583.65 1084.03L586.17 1084.03L588.44 1084.03L590.41 1084.07L592.06 1084.56L593.38 1085.45L594.33 1086.62L594.91 1087.97L595.10 1089.40L595.10 1089.40L594.91 1090.83L594.33 1092.16L593.38 1093.30L592.06 1094.15L590.41 1094.59L588.44 1094.57L586.17 1094.50L583.65 1094.42L580.92 1094.35L578.00 1094.28L574.94 1094.21L571.79 1094.15L568.60 1094.10L565.41 1094.06L562.26 1094.02L559.20 1094.00L556.28 1093.98L553.55 1093.97L551.03 1093.97L548.76 1093.97L546.79 1093.93L545.14 1093.44L543.82 1092.55L542.87 1091.38L542.29 1090.03L542.10 1088.60Z" fill="#271d1c" filter="url(#b1)"/>
<path d="M615.60 1089.70L615.81 1087.91L616.44 1086.20L617.49 1084.67L618.93 1083.41L620.74 1082.51L622.91 1082.12L625.39 1082.14L628.15 1082.17L631.15 1082.20L634.35 1082.22L637.70 1082.24L641.15 1082.25L644.65 1082.25L648.15 1082.25L651.60 1082.24L654.95 1082.22L658.15 1082.20L661.15 1082.17L663.91 1082.14L666.39 1082.12L668.56 1082.51L670.37 1083.41L671.81 1084.67L672.86 1086.20L673.49 1087.91L673.70 1089.70L673.70 1089.70L673.49 1091.49L672.86 1093.20L671.81 1094.73L670.37 1095.99L668.56 1096.89L666.39 1097.28L663.91 1097.26L661.15 1097.23L658.15 1097.20L654.95 1097.18L651.60 1097.16L648.15 1097.15L644.65 1097.15L641.15 1097.15L637.70 1097.16L634.35 1097.18L631.15 1097.20L628.15 1097.23L625.39 1097.26L622.91 1097.28L620.74 1096.89L618.93 1095.99L617.49 1094.73L616.44 1093.20L615.81 1091.49L615.60 1089.70Z" fill="#0b2231" filter="url(#b1)"/>
<path d="M619.20 1089.70L619.39 1088.34L619.94 1087.06L620.85 1085.96L622.12 1085.14L623.71 1084.71L625.60 1084.71L627.77 1084.74L630.19 1084.77L632.82 1084.80L635.63 1084.82L638.56 1084.84L641.58 1084.85L644.65 1084.85L647.72 1084.85L650.74 1084.84L653.67 1084.82L656.48 1084.80L659.11 1084.77L661.53 1084.74L663.70 1084.71L665.59 1084.71L667.18 1085.14L668.45 1085.96L669.36 1087.06L669.91 1088.34L670.10 1089.70L670.10 1089.70L669.91 1091.06L669.36 1092.34L668.45 1093.44L667.18 1094.26L665.59 1094.69L663.70 1094.69L661.53 1094.66L659.11 1094.63L656.48 1094.60L653.67 1094.58L650.74 1094.56L647.72 1094.55L644.65 1094.55L641.58 1094.55L638.56 1094.56L635.63 1094.58L632.82 1094.60L630.19 1094.63L627.77 1094.66L625.60 1094.69L623.71 1094.69L622.12 1094.26L620.85 1093.44L619.94 1092.34L619.39 1091.06L619.20 1089.70Z" fill="#271d1c" filter="url(#b1)"/>
<ellipse cx="366" cy="883" rx="7" ry="1.6" fill="#0b3550" opacity="0.3" filter="url(#b2)"/>
<ellipse cx="395" cy="883" rx="7" ry="1.6" fill="#0b3550" opacity="0.3" filter="url(#b2)"/>
<ellipse cx="440" cy="883.5" rx="14" ry="1.5" fill="#0b3550" opacity="0.2" filter="url(#b2)"/>
<ellipse cx="296.5" cy="893" rx="3.5" ry="4.5" fill="#0b3550" opacity="0.3" filter="url(#b2)"/>
<ellipse cx="661" cy="850" rx="4" ry="3" fill="#0b3550" opacity="0.25" filter="url(#b2)"/>
<ellipse cx="630" cy="892" rx="7" ry="2.2" fill="#0b3550" opacity="0.25" filter="url(#b2)"/>
<ellipse cx="661" cy="892" rx="6" ry="2.5" fill="#0b3550" opacity="0.25" filter="url(#b2)"/>
<circle cx="413.6" cy="1043.4" r="1.1" fill="#0b2c44" opacity="0.8"/>
<circle cx="454.5" cy="960.4" r="1" fill="#0b3550" opacity="0.5"/>
<line x1="608.4" x2="608.4" y1="843.0" y2="1126" stroke="#151515" stroke-width="2"/>
</svg>
</body></html>
